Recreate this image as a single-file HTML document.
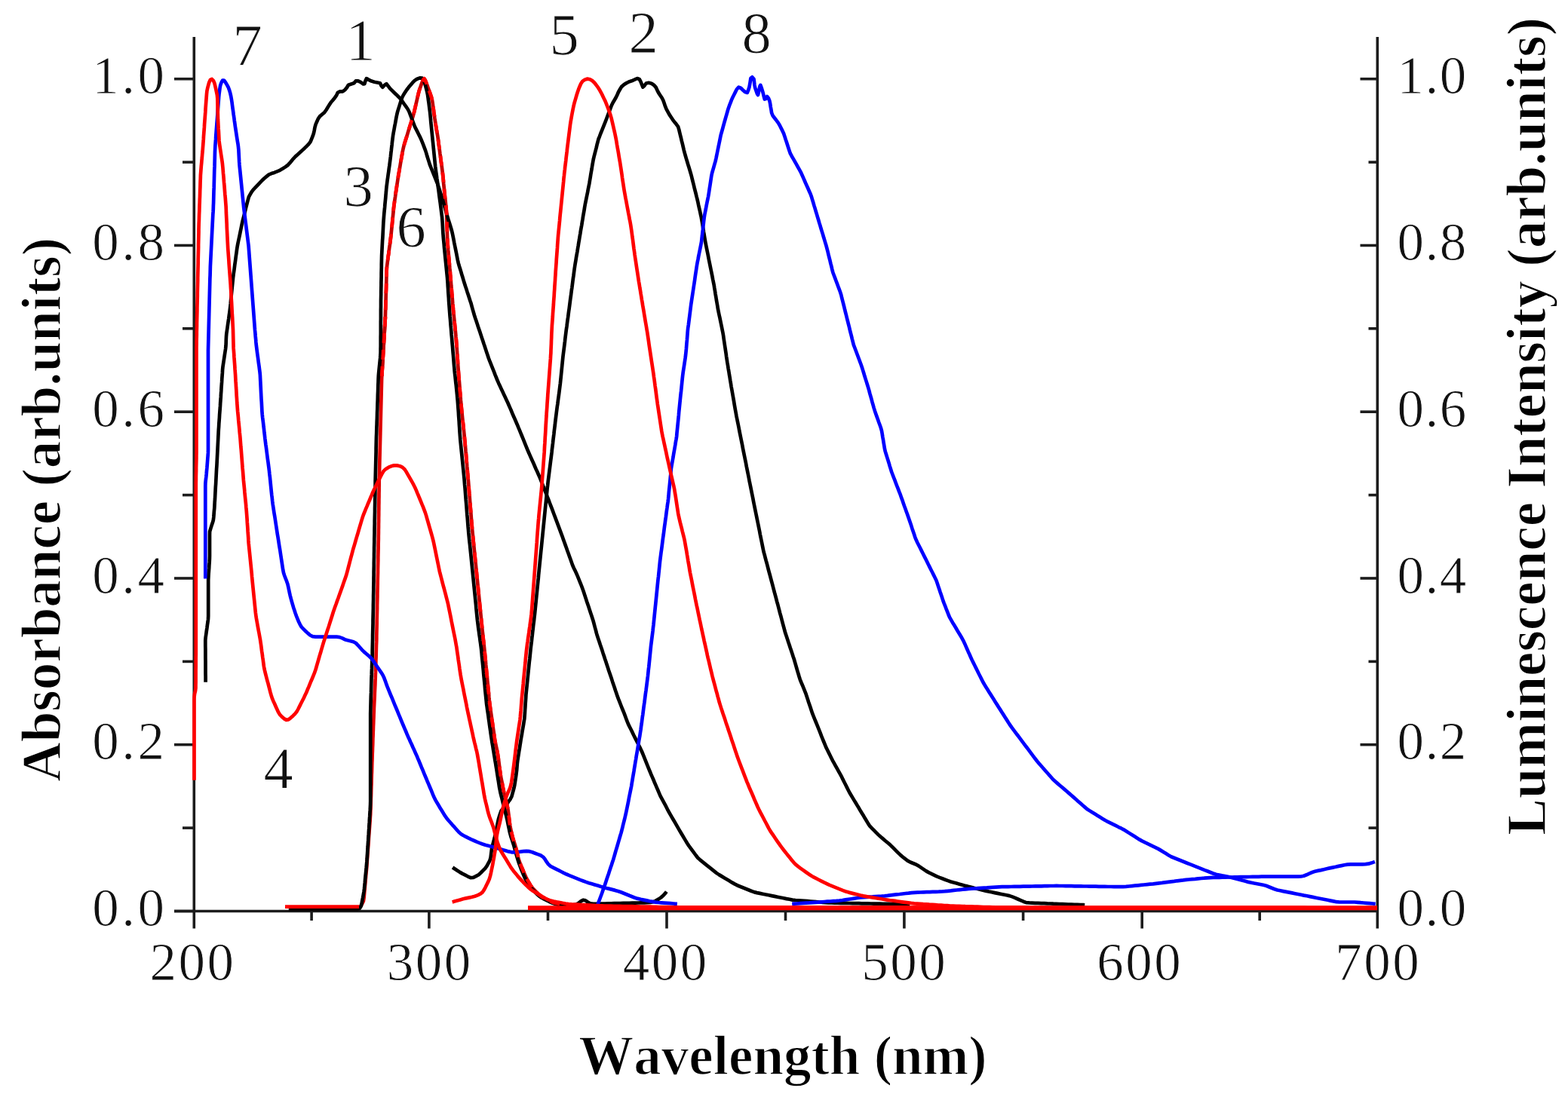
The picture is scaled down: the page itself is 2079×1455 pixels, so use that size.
<!DOCTYPE html>
<html><head><meta charset="utf-8"><title>Absorbance and luminescence spectra</title>
<style>html,body{margin:0;padding:0;background:#fff;overflow:hidden}svg{display:block}text{font-kerning:none}</style>
</head><body>
<svg width="2079" height="1455" viewBox="0 0 2079 1455">
<rect width="100%" height="100%" fill="#fff"/>
<g stroke="#1c1c1c" stroke-width="3.6" fill="none" stroke-linecap="butt">
<path d="M257.3 49 V1231.5 M1826.3 49 V1231.5 M231 1208.5 H1828.1"/>
<path d="M231 1208.5 H257.3"/>
<path d="M242 1098.1 H257.3"/>
<path d="M231 987.7 H257.3"/>
<path d="M242 877.4 H257.3"/>
<path d="M231 767.0 H257.3"/>
<path d="M242 656.6 H257.3"/>
<path d="M231 546.2 H257.3"/>
<path d="M242 435.8 H257.3"/>
<path d="M231 325.5 H257.3"/>
<path d="M242 215.1 H257.3"/>
<path d="M231 104.7 H257.3"/>
<path d="M1814.5 1098.1 H1826.3"/>
<path d="M1803.5 987.7 H1826.3"/>
<path d="M1814.5 877.4 H1826.3"/>
<path d="M1803.5 767.0 H1826.3"/>
<path d="M1814.5 656.6 H1826.3"/>
<path d="M1803.5 546.2 H1826.3"/>
<path d="M1814.5 435.8 H1826.3"/>
<path d="M1803.5 325.5 H1826.3"/>
<path d="M1814.5 215.1 H1826.3"/>
<path d="M1803.5 104.7 H1826.3"/>
<path d="M413.1 1208.5 V1221"/>
<path d="M568.9 1208.5 V1231.5"/>
<path d="M726.5 1208.5 V1221"/>
<path d="M884 1208.5 V1231.5"/>
<path d="M1041.5 1208.5 V1221"/>
<path d="M1198.9 1208.5 V1231.5"/>
<path d="M1356.6 1208.5 V1221"/>
<path d="M1514.2 1208.5 V1231.5"/>
<path d="M1670.2 1208.5 V1221"/>
</g>
<g font-family="Liberation Serif, serif" font-size="71" fill="#111" stroke="#fff" stroke-width="0.9">
<text x="221.5" y="1228.0" text-anchor="end" letter-spacing="3.5">0.0</text>
<text x="1852.5" y="1228.0" letter-spacing="1.5">0.0</text>
<text x="221.5" y="1007.2" text-anchor="end" letter-spacing="3.5">0.2</text>
<text x="1852.5" y="1007.2" letter-spacing="1.5">0.2</text>
<text x="221.5" y="786.5" text-anchor="end" letter-spacing="3.5">0.4</text>
<text x="1852.5" y="786.5" letter-spacing="1.5">0.4</text>
<text x="221.5" y="565.7" text-anchor="end" letter-spacing="3.5">0.6</text>
<text x="1852.5" y="565.7" letter-spacing="1.5">0.6</text>
<text x="221.5" y="345.0" text-anchor="end" letter-spacing="3.5">0.8</text>
<text x="1852.5" y="345.0" letter-spacing="1.5">0.8</text>
<text x="221.5" y="124.2" text-anchor="end" letter-spacing="3.5">1.0</text>
<text x="1852.5" y="124.2" letter-spacing="1.5">1.0</text>
<text x="255.55" y="1299.5" text-anchor="middle" letter-spacing="2.5">200</text>
<text x="569.75" y="1299.5" text-anchor="middle" letter-spacing="2.5">300</text>
<text x="882.65" y="1299.5" text-anchor="middle" letter-spacing="2.5">400</text>
<text x="1199.25" y="1299.5" text-anchor="middle" letter-spacing="2.5">500</text>
<text x="1511.25" y="1299.5" text-anchor="middle" letter-spacing="2.5">600</text>
<text x="1827.25" y="1299.5" text-anchor="middle" letter-spacing="2.5">700</text>
</g>
<g font-family="Liberation Serif, serif" font-size="73" font-weight="bold" fill="#000" stroke="#fff" stroke-width="1.4">
<text x="1038" y="1424.5" text-anchor="middle">Wavelength (nm)</text>
<text transform="translate(80 676) rotate(-90)" text-anchor="middle">Absorbance (arb.units)</text>
<text transform="translate(2048.5 565.5) rotate(-90)" text-anchor="middle">Luminescence Intensity (arb.units)</text>
</g>
<g font-family="Liberation Serif, serif" font-size="78.5" fill="#111" stroke="#fff" stroke-width="0.9">
<text x="328" y="86" text-anchor="middle">7</text>
<text x="478" y="79" text-anchor="middle">1</text>
<text x="748" y="72" text-anchor="middle">5</text>
<text x="853" y="69" text-anchor="middle">2</text>
<text x="1003" y="70" text-anchor="middle">8</text>
<text x="475" y="273" text-anchor="middle">3</text>
<text x="545" y="327" text-anchor="middle">6</text>
<text x="369" y="1045" text-anchor="middle">4</text>
</g>
<g fill="none" stroke-width="4.7" stroke-linejoin="round" stroke-linecap="butt">
<polyline stroke="#e00000" stroke-linecap="round" points="478.2,1202.1 480.0,1199.0 481.8,1195.5 482.5,1191.6 482.9,1187.6 483.2,1183.6 483.6,1179.6 483.9,1175.6 484.3,1171.6 484.6,1167.6 485.0,1163.6 485.3,1159.6 485.7,1155.7 486.1,1151.7 486.4,1147.7 486.7,1143.7 486.9,1139.7 487.2,1135.7 487.5,1131.7 487.8,1127.7 488.1,1123.7 488.4,1119.7 488.7,1115.7 488.9,1111.7 489.2,1107.7 489.5,1103.7 489.8,1099.7 490.1,1095.7 490.4,1091.7 490.7,1087.7 490.9,1083.7 491.2,1079.7 491.3,1075.7 491.5,1071.7 491.6,1067.7 491.7,1063.7 491.8,1059.7 492.0,1055.7 492.1,1051.7 492.2,1047.6 492.3,1043.6 492.5,1039.6 492.6,1035.6 492.7,1031.6 492.8,1027.6 493.0,1023.6 493.1,1019.6 493.2,1015.6 493.3,1011.6 493.5,1007.6 493.6,1003.6 493.7,999.6 493.9,995.6 494.0,991.6 494.2,987.6 494.3,983.5 494.4,979.5 494.6,975.5 494.7,971.5 494.9,967.5 495.0,963.5 495.2,959.5 495.3,955.5 495.5,951.5 495.6,947.5 495.8,943.5 495.9,939.5 496.1,935.5 496.3,931.5 496.5,927.5 496.7,923.5 496.8,919.5 497.0,915.5 497.2,911.5 497.4,907.5 497.5,903.5 497.7,899.4 497.8,895.4 498.0,891.4 498.1,887.4 498.2,883.4 498.3,879.4 498.4,875.4 498.6,871.4 498.7,867.4 498.8,863.4 498.9,859.4 499.0,855.4 499.2,851.4 499.3,847.4 499.3,843.4 499.4,839.3 499.5,835.3 499.6,831.3 499.7,827.3 499.7,823.3 499.8,819.3 499.9,815.3 500.0,811.3 500.1,807.3 500.1,803.3 500.2,799.3 500.3,795.3 500.4,791.3 500.4,787.3 500.5,783.2 500.6,779.2 500.7,775.2 500.7,771.2 500.8,767.2 500.9,763.2 501.0,759.2 501.0,755.2 501.1,751.2 501.2,747.2 501.3,743.2 501.3,739.2 501.4,735.2 501.5,731.1 501.6,727.1 501.6,723.1 501.7,719.1 501.8,715.1 501.8,711.1 501.9,707.1 501.9,703.1 502.0,699.1 502.0,695.1 502.1,691.1 502.1,687.1 502.2,683.1 502.2,679.0 502.3,675.0 502.3,671.0 502.4,667.0 502.4,663.0 502.5,659.0 502.5,655.0 502.6,651.0 502.6,647.0 502.7,643.0 502.7,639.0 502.8,635.0 502.9,631.0 503.0,626.9 503.1,622.9 503.2,618.9 503.3,614.9 503.4,610.9 503.5,606.9 503.6,602.9 503.7,598.9 503.8,594.9 503.9,590.9 504.0,586.9 504.1,582.9 504.2,578.9 504.3,574.9 504.4,570.8 504.5,566.8 504.6,562.8 504.7,558.8 504.8,554.8 504.9,550.8 505.0,546.8 505.1,542.8 505.2,538.8 505.3,534.8 505.4,530.8 505.5,526.8 505.6,522.8 505.7,518.8 505.8,514.7 505.9,510.7 506.0,506.7 506.1,502.7 506.3,498.7 506.5,494.7 506.7,490.7 507.0,486.7 507.2,482.7 507.5,478.7 507.7,474.7 507.9,470.7 508.2,466.7 508.4,462.7 508.6,458.7 508.9,454.7 509.1,450.7 509.4,446.7 509.6,442.7 509.8,438.7 510.1,434.7 510.3,430.7 510.5,426.7 510.8,422.7 510.9,421.2"/>
<polyline stroke="#c40000" points="506.3,498.9 506.4,495.9 506.7,492.0 506.9,488.0 507.1,484.0 507.4,480.0 507.6,476.0 507.9,472.0 508.1,468.0 508.3,464.0 508.6,460.1 508.8,456.1 509.0,452.1 509.3,448.1 509.5,444.1 509.8,440.1 510.0,436.1 510.2,432.1 510.5,428.1 510.7,424.1 510.9,420.1 511.0,416.1 511.1,412.1 511.3,408.1 511.4,404.1 511.5,400.1 511.6,396.1 511.7,392.1 511.8,388.1 512.0,384.1 512.1,380.1 512.2,376.1 512.3,372.1 512.4,368.1 512.5,364.1 512.6,360.1 512.8,356.1 513.2,352.1 513.7,348.2 514.2,344.2 514.7,340.2 515.3,336.3 515.8,332.3 516.3,328.3 516.9,324.4 517.4,320.4 517.9,316.4 518.4,312.5 518.8,308.5 519.2,304.5 519.6,300.5 520.0,296.5 520.4,292.5 520.8,288.6 521.2,284.6 521.6,280.6 521.9,276.6 522.4,272.6 522.9,268.7 523.5,264.7 524.1,260.8 524.6,256.8 525.2,252.8 525.8,248.9 526.4,244.9 527.0,241.0 527.6,237.0 528.2,233.0 528.9,229.1 529.6,225.2 530.3,221.2 530.9,217.3 531.6,213.3 532.3,209.4 533.0,205.5 533.7,201.5 534.5,197.6 535.4,193.7 536.5,189.9 537.7,186.0 538.9,182.2 540.1,178.4 541.2,174.6 542.4,170.8 543.6,166.9 544.8,163.1 546.0,159.3 547.2,155.5 548.3,151.6 549.3,147.8 550.2,143.9 551.1,140.0 552.0,136.1 552.9,132.2 553.8,128.2 554.7,124.4 555.7,120.5 557.0,116.7 558.3,112.9 559.7,109.2 561.1,105.7 562.4,104.3 563.8,106.3 565.2,109.9 566.6,113.6 567.9,117.4 569.3,121.1 570.7,124.9 572.0,128.7 572.9,132.5 573.6,136.5 574.1,140.4 574.7,144.4 575.2,148.4 575.8,152.3 576.3,156.3 576.9,160.2 577.5,164.2 578.2,168.1 578.8,172.1 579.5,176.0 580.2,180.0 580.8,183.9 581.3,187.9 581.8,191.9 582.4,195.8 582.9,199.8 583.4,203.8 584.0,207.7 584.5,211.7 585.0,215.7 585.6,219.6 586.1,223.6 586.6,227.6 587.1,231.5 587.5,235.5 587.9,239.5 588.2,243.5 588.6,247.5 589.0,251.5 589.4,255.4 589.8,259.4 590.2,263.4 590.7,267.4 591.1,271.4 591.5,275.3 591.8,279.3 592.1,283.3 592.3,287.3 592.4,291.3 592.5,295.3 592.6,299.3 592.8,303.3 592.9,307.3 593.0,311.3 593.1,315.3 593.3,319.3 593.6,323.3 593.9,327.3 594.2,331.3 594.6,335.3 594.9,339.2 595.3,343.2 595.6,347.2 596.0,351.2 596.3,355.2 596.7,359.2 597.0,363.2 597.4,367.2 597.7,371.1 598.0,375.1 598.3,379.1 598.7,383.1 599.0,387.1 599.3,391.1 599.7,395.1 600.0,399.1 600.3,403.0 600.7,407.0 601.0,411.0 601.4,415.0 601.8,419.0 602.2,423.0 602.6,427.0 603.0,430.9 603.4,434.9 603.8,438.9 604.2,442.9 604.5,446.9 604.9,450.8 605.2,454.8 605.5,458.8 605.8,462.8 606.0,466.8 606.3,470.8 606.6,474.8 606.9,478.8 607.1,482.8 607.4,486.8 607.7,490.8 608.0,494.8 608.3,498.7 608.6,502.7 609.0,506.7 609.3,510.7 609.6,514.7 609.9,518.7 610.3,522.7 610.6,526.7 610.9,530.7 611.3,534.6 611.6,538.6 612.0,542.6 612.4,546.6 612.8,550.6 613.2,554.6 613.6,558.5 614.1,562.5 614.5,566.5 614.9,570.5 615.3,574.5 615.7,578.4 616.1,582.4 616.5,586.4 616.8,590.4 617.2,594.4 617.5,598.4 617.9,602.3 618.2,606.3 618.5,610.3 618.9,614.3 619.2,618.3 619.6,622.3 619.9,626.3 620.3,630.3 620.6,634.2 621.0,638.2 621.3,642.2 621.6,646.2 621.9,650.2 622.2,654.2 622.6,658.2 622.9,662.2 623.2,666.2 623.5,670.1 623.8,674.1 624.2,678.1 624.5,682.1 624.8,686.1 625.1,690.1 625.4,694.1 625.8,698.1 626.1,702.0 626.5,706.0 626.9,710.0 627.3,714.0 627.7,718.0 628.1,722.0 628.5,725.9 628.9,729.9 629.3,733.9 629.7,737.9 630.1,741.9 630.5,745.8 630.9,749.8 631.3,753.8 631.7,757.8 632.1,761.8 632.5,765.8 632.9,769.7 633.3,773.7 633.7,777.7 634.1,781.7 634.5,785.7 634.9,789.6 635.3,793.6 635.7,797.6 636.1,801.6 636.5,805.6 636.9,809.6 637.3,813.5 637.7,817.5 638.1,821.5 638.5,825.5 638.9,829.5 639.3,833.4 639.7,837.4 640.2,841.4 640.6,845.4 641.0,849.4 641.5,853.3 641.9,857.3 642.3,861.3 642.7,865.3 643.1,869.3 643.5,873.2 643.9,877.2 644.2,881.2 644.6,885.2 645.0,889.2 645.4,893.2 645.8,897.1 646.1,901.1 646.5,905.1 646.9,909.1 647.3,913.1 647.7,917.1 648.1,921.0 648.4,925.0 648.8,929.0 649.3,933.0 649.8,937.0 650.3,940.9 650.9,944.9 651.5,948.8 652.0,952.8 652.6,956.8 653.2,960.7 653.7,964.7 654.3,968.6 654.9,972.6 655.4,976.6 656.0,980.5 656.7,984.5 657.5,988.4 658.4,992.3 659.2,996.2 659.9,1000.1 660.5,1004.1 661.1,1008.1 661.6,1012.0 662.1,1016.0 662.6,1020.0 663.2,1023.9 663.7,1027.9 664.4,1031.8 665.2,1035.8 666.0,1039.7 666.7,1043.6 667.5,1047.5 668.3,1051.5 669.2,1055.4 670.2,1059.2 671.1,1063.1 672.1,1067.0 673.0,1070.9 673.7,1074.8 674.2,1078.8 674.7,1082.8 675.2,1086.7 675.6,1090.7 676.2,1094.7 676.9,1098.6 677.8,1102.5 678.7,1106.4 679.7,1110.3 680.8,1114.1 682.0,1118.0 683.2,1121.8 684.3,1125.6 685.3,1129.5 686.2,1133.4 687.1,1137.3 688.1,1141.1 689.5,1144.9 691.0,1148.6 692.6,1152.3 694.1,1155.9 695.7,1159.6 697.3,1163.3 699.1,1166.9 701.1,1170.3 703.2,1173.8 705.4,1177.0 708.0,1180.0 710.9,1182.9 713.7,1185.7 716.7,1188.3 720.0,1190.4 723.5,1192.3 727.1,1194.1 730.7,1195.8 734.4,1197.4 738.2,1198.3 742.2,1198.9 746.1,1199.3 750.1,1199.8 754.1,1200.3 758.0,1200.7 762.0,1201.1 766.0,1201.3 770.0,1201.5 774.0,1201.7 778.0,1201.9 782.0,1202.1 786.0,1202.3 790.0,1202.5 794.0,1202.7 797.6,1202.9 798.9,1202.9"/>
<polyline stroke="#000" points="272.6,904.7 272.6,901.0 272.6,897.0 272.5,893.0 272.5,889.0 272.5,885.0 272.5,881.0 272.5,877.0 272.4,873.0 272.4,869.0 272.4,865.0 272.4,861.0 272.3,857.0 272.3,853.0 272.3,849.0 272.7,845.0 273.3,841.0 273.8,837.1 274.4,833.1 274.9,829.1 275.5,825.2 276.0,821.2 276.2,817.2 276.2,813.2 276.2,809.2 276.2,805.2 276.2,801.2 276.2,797.2 276.2,793.2 276.2,789.2 276.2,785.2 276.2,781.2 276.2,777.2 276.2,773.2 276.2,769.2 276.4,765.2 276.6,761.2 276.9,757.2 277.2,753.2 277.4,749.2 277.7,745.2 277.9,741.2 278.0,737.2 278.0,733.2 278.0,729.2 278.0,725.2 278.0,721.2 278.0,717.2 278.0,713.2 278.0,709.2 278.1,705.2 279.2,701.4 280.4,697.6 281.7,693.8 282.8,690.0 283.3,686.0 283.6,682.0 283.9,678.0 284.3,674.0 284.5,670.0 284.7,666.0 285.0,662.0 285.2,658.0 285.4,654.0 285.6,650.1 285.8,646.1 286.1,642.1 286.3,638.1 286.5,634.1 286.7,630.1 286.9,626.1 287.1,622.1 287.4,618.1 287.6,614.1 287.8,610.1 288.0,606.1 288.2,602.1 288.4,598.1 288.6,594.1 288.8,590.1 289.0,586.1 289.2,582.1 289.4,578.1 289.6,574.1 289.8,570.1 290.1,566.1 290.3,562.1 290.6,558.1 290.9,554.1 291.1,550.1 291.4,546.2 291.7,542.2 292.0,538.2 292.2,534.2 292.5,530.2 292.8,526.2 293.0,522.2 293.3,518.2 293.5,514.2 293.8,510.2 294.1,506.2 294.3,502.2 294.6,498.2 294.9,494.2 295.1,490.2 295.5,486.3 296.1,482.3 296.7,478.3 297.3,474.4 297.9,470.4 298.5,466.5 299.1,462.5 299.5,458.5 299.7,454.5 299.8,450.5 300.0,446.5 300.3,442.6 300.9,438.6 301.5,434.6 302.0,430.7 302.6,426.7 303.2,422.8 303.7,418.8 304.3,414.8 304.8,410.9 305.3,406.9 305.7,402.9 306.0,398.9 306.4,394.9 306.8,391.0 307.2,387.0 307.6,383.0 308.0,379.0 308.4,375.0 308.8,371.0 309.2,367.1 309.7,363.1 310.3,359.1 310.8,355.2 311.3,351.2 311.9,347.2 312.4,343.3 312.9,339.3 313.5,335.3 314.0,331.4 314.6,327.4 315.3,323.5 316.1,319.6 317.0,315.6 317.8,311.7 318.6,307.8 319.4,303.9 320.2,300.0 321.0,296.0 321.9,292.1 322.9,288.3 323.9,284.4 324.9,280.5 325.8,276.6 326.8,272.7 327.8,268.9 328.8,265.0 329.9,261.1 331.8,257.6 333.8,254.2 336.3,251.1 339.1,248.2 341.8,245.3 344.6,242.4 347.3,239.5 350.2,236.7 353.3,234.1 356.4,231.6 360.0,230.1 363.8,228.9 367.5,227.4 371.2,225.8 374.6,223.8 378.0,221.6 381.3,219.3 384.0,216.4 386.5,213.4 389.1,210.3 391.9,207.4 394.9,204.8 397.9,202.1 400.8,199.4 403.7,196.7 406.6,193.8 409.4,191.0 411.7,187.8 413.2,184.1 414.7,180.4 416.0,176.6 416.8,172.7 417.5,168.8 418.6,164.9 420.2,161.3 421.8,157.6 424.0,154.4 427.0,151.8 430.1,149.2 432.4,146.0 434.5,142.6 436.6,139.1 438.8,135.8 441.4,132.8 443.9,129.7 446.2,126.4 447.8,122.8 450.6,121.4 454.3,121.4 457.5,119.1 460.0,116.0 461.9,112.7 465.6,111.5 469.4,110.3 471.7,107.4 474.9,107.4 478.5,109.1 481.6,111.5 483.4,111.1 484.5,107.2 485.9,104.1 489.0,105.9 492.5,107.6 496.4,108.7 500.3,109.5 504.0,110.3 505.6,113.8 507.3,115.7 509.8,113.0 512.4,111.3 514.7,114.2 517.1,117.4 519.9,120.2 522.8,123.0 525.7,125.7 528.5,128.5 531.3,131.5 533.6,134.7 535.9,138.0 538.2,141.2 540.5,144.5 542.4,148.0 543.8,151.8 545.2,155.5 546.7,159.3 548.1,163.0 549.5,166.7 551.2,170.4 553.0,173.9 554.8,177.5 556.6,181.1 558.3,184.7 559.8,188.4 561.3,192.1 562.7,195.9 564.1,199.6 565.3,203.4 566.4,207.3 567.6,211.1 568.8,214.9 570.0,218.7 571.5,222.5 573.0,226.2 574.5,229.9 576.0,233.6 577.5,237.3 579.0,241.0 580.5,244.7 581.7,248.5 582.9,252.3 584.1,256.1 585.4,260.0 586.5,263.8 587.6,267.6 588.7,271.5 589.8,275.3 590.9,279.2 592.0,283.0 593.2,286.9 594.3,290.7 595.5,294.5 596.7,298.3 597.9,302.2 599.0,306.0 599.9,309.9 600.7,313.8 601.5,317.8 602.2,321.7 603.0,325.6 603.8,329.5 604.6,333.5 605.4,337.4 606.1,341.3 606.9,345.2 607.8,349.1 608.9,353.0 610.1,356.8 611.3,360.6 612.4,364.5 613.6,368.3 614.7,372.1 615.9,376.0 617.1,379.8 618.4,383.6 619.6,387.4 620.9,391.2 622.1,395.0 623.3,398.8 624.6,402.6 625.6,406.4 626.7,410.3 627.8,414.2 628.9,418.0 630.1,421.8 631.4,425.6 632.7,429.4 633.9,433.2 635.2,437.0 636.5,440.8 637.7,444.6 639.0,448.4 640.3,452.2 641.5,456.0 642.8,459.8 644.0,463.6 645.3,467.4 646.6,471.2 647.8,475.0 649.2,478.7 650.7,482.4 652.2,486.2 653.7,489.9 655.2,493.6 656.6,497.3 658.1,501.0 659.6,504.8 661.2,508.4 662.9,512.0 664.6,515.7 666.3,519.3 668.0,522.9 669.7,526.5 671.4,530.2 673.1,533.8 674.7,537.5 676.3,541.1 677.9,544.8 679.4,548.5 681.0,552.2 682.6,555.8 684.2,559.5 685.8,563.2 687.3,566.9 688.9,570.6 690.4,574.3 691.9,578.0 693.4,581.7 694.9,585.4 696.4,589.1 697.9,592.8 699.4,596.5 701.0,600.2 702.6,603.9 704.2,607.5 705.9,611.2 707.5,614.8 709.1,618.5 710.7,622.2 712.4,625.8 714.0,629.5 715.6,633.1 717.1,636.8 718.6,640.6 720.0,644.3 721.5,648.0 722.9,651.7 724.4,655.5 725.8,659.2 727.3,662.9 728.7,666.7 730.1,670.4 731.6,674.2 733.0,677.9 734.4,681.7 735.8,685.4 737.2,689.1 738.6,692.9 740.0,696.6 741.4,700.4 742.8,704.1 744.2,707.9 745.6,711.6 746.9,715.4 748.3,719.2 749.6,722.9 751.0,726.7 752.3,730.5 753.7,734.3 755.0,738.0 756.4,741.8 757.7,745.6 759.0,749.3 760.6,753.0 762.4,756.6 764.1,760.2 765.7,763.9 767.2,767.6 768.7,771.3 770.2,775.0 771.6,778.7 773.0,782.5 774.3,786.3 775.5,790.1 776.8,793.9 778.0,797.7 779.3,801.5 780.6,805.3 781.8,809.1 783.1,812.9 784.4,816.7 785.6,820.5 786.8,824.3 787.8,828.2 788.8,832.0 789.9,835.9 790.9,839.8 792.0,843.6 793.3,847.4 794.6,851.2 795.8,855.0 797.1,858.8 798.4,862.6 799.6,866.4 800.9,870.2 802.1,874.0 803.4,877.8 804.6,881.6 805.9,885.4 807.1,889.2 808.4,893.0 809.7,896.8 811.0,900.6 812.2,904.4 813.5,908.2 814.8,912.0 816.0,915.8 817.3,919.6 818.6,923.4 820.0,927.1 821.5,930.8 822.9,934.5 824.4,938.3 825.9,942.0 827.4,945.7 828.8,949.4 830.2,953.2 831.6,956.9 833.1,960.6 834.9,964.2 836.7,967.8 838.5,971.4 840.2,975.0 842.0,978.6 843.8,982.1 845.6,985.7 847.4,989.3 849.2,992.9 850.9,996.5 852.4,1000.2 853.9,1003.9 855.4,1007.6 856.9,1011.4 858.4,1015.1 859.9,1018.8 861.4,1022.5 862.9,1026.2 864.5,1029.9 866.1,1033.5 867.6,1037.2 869.2,1040.9 870.8,1044.6 872.4,1048.3 873.9,1051.9 875.5,1055.6 877.4,1059.2 879.3,1062.7 881.2,1066.2 883.1,1069.7 884.9,1073.3 886.8,1076.8 888.8,1080.3 890.8,1083.8 892.8,1087.2 894.8,1090.7 896.8,1094.2 898.8,1097.6 900.8,1101.1 902.8,1104.5 904.9,1108.0 906.9,1111.4 909.0,1114.9 911.0,1118.3 913.2,1121.6 915.6,1124.8 918.0,1128.1 920.4,1131.3 922.7,1134.5 925.2,1137.7 928.1,1140.4 931.2,1142.9 934.3,1145.4 937.4,1147.9 940.6,1150.4 943.7,1152.9 946.8,1155.4 949.9,1157.9 953.3,1160.1 956.7,1162.1 960.1,1164.2 963.6,1166.3 967.0,1168.3 970.4,1170.4 973.9,1172.4 977.4,1174.2 981.1,1175.7 984.9,1177.2 988.6,1178.7 992.3,1180.2 996.0,1181.7 999.7,1183.1 1003.6,1184.1 1007.5,1184.9 1011.4,1185.7 1015.4,1186.5 1019.3,1187.3 1023.2,1188.1 1027.1,1188.9 1031.1,1189.7 1035.0,1190.5 1038.9,1191.3 1042.8,1192.1 1046.8,1192.8 1050.7,1193.6 1054.7,1194.0 1058.7,1194.3 1062.6,1194.6 1066.6,1194.9 1070.6,1195.2 1074.6,1195.5 1078.6,1195.8 1082.6,1196.2 1086.6,1196.5 1090.6,1196.8 1094.6,1197.1 1098.6,1197.4 1102.6,1197.5 1106.6,1197.6 1110.6,1197.7 1114.6,1197.8 1118.6,1197.8 1122.6,1197.9 1126.6,1198.0 1130.6,1198.1 1134.6,1198.1 1138.6,1198.2 1142.6,1198.3 1146.6,1198.3 1150.6,1198.4 1154.6,1198.5 1158.6,1198.6 1162.6,1198.6 1166.6,1198.7 1170.6,1198.8 1174.6,1198.8 1178.6,1198.9 1182.6,1199.0 1186.6,1199.0 1190.6,1199.1 1194.6,1199.2 1198.6,1199.3 1202.6,1199.3 1206.3,1199.4"/>
<polyline stroke="#000" points="600.1,1150.5 603.1,1152.5 606.5,1154.7 609.8,1156.9 613.3,1158.9 616.9,1160.7 620.4,1162.5 624.0,1164.2 627.6,1163.9 631.1,1162.1 634.6,1160.2 637.6,1157.5 640.4,1154.7 643.2,1151.8 645.5,1148.6 647.4,1145.1 649.3,1141.6 650.5,1137.8 651.0,1133.9 651.5,1129.9 652.0,1125.9 652.9,1122.0 653.9,1118.1 654.9,1114.3 655.9,1110.4 656.8,1106.5 657.6,1102.6 658.4,1098.7 659.2,1094.8 660.0,1090.8 660.8,1086.9 661.9,1083.1 663.2,1079.3 664.5,1075.5 666.9,1072.4 669.6,1069.4 672.1,1066.3 674.4,1063.0 676.7,1059.8 678.5,1056.2 679.5,1052.4 680.6,1048.5 681.6,1044.7 682.4,1040.7 683.0,1036.8 683.6,1032.8 684.2,1028.9 684.7,1024.9 685.2,1020.9 685.5,1017.0 685.8,1013.0 686.3,1009.0 686.9,1005.0 687.5,1001.1 688.1,997.1 688.8,993.2 689.4,989.2 690.0,985.3 690.6,981.3 691.3,977.4 692.0,973.5 692.6,969.5 693.3,965.6 694.0,961.6 694.6,957.7 695.3,953.7 695.6,949.7 695.9,945.8 696.1,941.8 696.4,937.8 696.6,933.8 696.9,929.8 697.2,925.8 697.4,921.8 697.8,917.8 698.2,913.8 698.6,909.9 699.0,905.9 699.4,901.9 699.8,897.9 700.2,893.9 700.6,890.0 701.0,886.0 701.4,882.0 701.8,878.0 702.3,874.0 702.7,870.1 703.1,866.1 703.5,862.1 703.9,858.1 704.4,854.2 704.9,850.2 705.3,846.2 705.8,842.2 706.2,838.3 706.7,834.3 707.1,830.3 707.6,826.3 708.1,822.4 708.5,818.4 709.0,814.4 709.4,810.4 709.8,806.5 710.2,802.5 710.6,798.5 711.0,794.5 711.4,790.5 711.8,786.6 712.2,782.6 712.6,778.6 713.0,774.6 713.4,770.6 713.8,766.7 714.1,762.7 714.5,758.7 714.9,754.7 715.3,750.7 715.7,746.8 716.1,742.8 716.5,738.8 716.9,734.8 717.3,730.8 717.7,726.9 718.1,722.9 718.5,718.9 718.9,714.9 719.3,710.9 719.7,707.0 720.1,703.0 720.5,699.0 720.9,695.0 721.3,691.0 721.7,687.1 722.1,683.1 722.5,679.1 722.9,675.1 723.3,671.1 723.7,667.2 724.1,663.2 724.5,659.2 724.9,655.2 725.3,651.2 725.7,647.3 726.2,643.3 726.6,639.3 727.1,635.3 727.6,631.4 728.1,627.4 728.6,623.4 729.1,619.5 729.6,615.5 730.1,611.5 730.6,607.6 731.1,603.6 731.6,599.6 732.0,595.6 732.5,591.7 733.0,587.7 733.4,583.7 733.9,579.8 734.4,575.8 734.8,571.8 735.3,567.8 735.8,563.9 736.2,559.9 736.7,555.9 737.2,551.9 737.7,548.0 738.2,544.0 738.7,540.0 739.3,536.1 739.8,532.1 740.3,528.2 740.9,524.2 741.4,520.2 741.9,516.3 742.4,512.3 742.9,508.3 743.3,504.3 743.7,500.4 744.1,496.4 744.5,492.4 744.9,488.4 745.3,484.4 745.7,480.5 746.1,476.5 746.5,472.5 747.0,468.5 747.5,464.6 748.0,460.6 748.5,456.6 749.0,452.6 749.4,448.7 749.9,444.7 750.4,440.7 750.9,436.8 751.5,432.8 752.0,428.8 752.5,424.9 753.1,420.9 753.6,416.9 754.1,413.0 754.7,409.0 755.2,405.1 755.7,401.1 756.2,397.1 756.8,393.2 757.3,389.2 757.8,385.2 758.4,381.3 758.9,377.3 759.4,373.3 759.9,369.4 760.5,365.4 761.0,361.4 761.5,357.5 762.1,353.5 762.7,349.6 763.4,345.6 764.0,341.7 764.7,337.7 765.4,333.8 766.0,329.8 766.7,325.9 767.3,321.9 768.0,318.0 768.6,314.0 769.3,310.1 769.9,306.2 770.6,302.2 771.3,298.3 771.9,294.3 772.6,290.4 773.2,286.4 773.9,282.5 774.6,278.5 775.2,274.6 775.9,270.7 776.7,266.7 777.5,262.8 778.3,258.9 779.1,255.0 779.8,251.1 780.6,247.1 781.4,243.2 782.0,239.3 782.7,235.3 783.3,231.4 784.0,227.4 784.7,223.5 785.3,219.5 786.0,215.6 786.7,211.6 787.6,207.8 788.6,203.9 789.6,200.0 790.6,196.1 791.5,192.2 792.5,188.4 793.5,184.5 795.0,180.8 796.4,177.0 797.9,173.3 799.4,169.6 800.9,165.9 802.4,162.2 803.8,158.5 805.2,154.7 806.6,151.0 808.1,147.2 809.5,143.5 810.9,139.7 812.6,136.2 814.7,132.7 816.7,129.3 818.4,125.7 820.0,122.0 822.0,118.5 824.0,115.1 827.0,112.5 830.3,110.3 833.8,108.5 837.6,107.3 841.3,105.7 844.9,104.0 847.7,104.9 849.5,108.4 851.0,112.1 852.4,115.5 854.4,113.7 856.7,110.5 860.1,109.8 863.9,110.8 867.2,113.0 869.7,115.9 871.4,119.6 873.2,123.1 875.4,126.5 877.6,129.8 879.4,133.3 880.7,137.1 882.0,140.9 883.5,144.6 885.4,148.1 887.3,151.6 889.5,155.0 891.7,158.3 894.0,161.5 896.6,164.6 899.0,167.8 900.2,171.6 901.1,175.5 902.0,179.3 903.0,183.2 903.9,187.1 904.9,191.0 905.8,194.9 906.7,198.8 907.7,202.7 908.8,206.5 909.9,210.3 911.1,214.2 912.2,218.0 913.4,221.8 914.6,225.7 915.7,229.5 916.8,233.3 917.7,237.2 918.7,241.1 919.7,245.0 920.6,248.9 921.6,252.8 922.6,256.6 923.5,260.5 924.5,264.4 925.4,268.3 926.2,272.2 927.1,276.1 928.0,280.0 928.8,283.9 929.7,287.8 930.4,291.8 931.1,295.7 931.7,299.7 932.4,303.6 933.0,307.6 933.7,311.5 934.3,315.4 935.0,319.4 935.7,323.3 936.5,327.2 937.3,331.2 938.1,335.1 938.9,339.0 939.6,342.9 940.4,346.9 941.2,350.8 942.0,354.7 942.8,358.6 943.6,362.5 944.4,366.5 945.1,370.4 945.9,374.3 946.7,378.2 947.3,382.2 948.0,386.1 948.6,390.1 949.3,394.0 949.9,398.0 950.6,401.9 951.3,405.9 951.9,409.8 952.7,413.7 953.5,417.6 954.4,421.6 955.2,425.5 956.0,429.4 956.8,433.3 957.6,437.2 958.4,441.1 959.1,445.1 959.6,449.0 960.2,453.0 960.8,457.0 961.4,460.9 962.0,464.9 962.6,468.8 963.1,472.8 963.7,476.7 964.3,480.7 965.0,484.7 965.6,488.6 966.3,492.5 966.9,496.5 967.6,500.4 968.2,504.4 968.9,508.3 969.5,512.3 970.2,516.2 970.9,520.2 971.6,524.1 972.3,528.0 973.0,532.0 973.6,535.9 974.3,539.9 975.0,543.8 975.7,547.7 976.4,551.7 977.2,555.6 978.0,559.5 978.8,563.4 979.6,567.4 980.3,571.3 981.1,575.2 981.9,579.1 982.7,583.1 983.5,587.0 984.3,590.9 985.0,594.8 985.8,598.8 986.6,602.7 987.4,606.6 988.2,610.5 989.0,614.4 989.7,618.4 990.5,622.3 991.3,626.2 992.1,630.1 992.9,634.1 993.6,638.0 994.4,641.9 995.2,645.8 996.0,649.7 996.8,653.7 997.6,657.6 998.4,661.5 999.1,665.4 999.9,669.4 1000.7,673.3 1001.5,677.2 1002.3,681.1 1003.1,685.0 1003.9,689.0 1004.7,692.9 1005.5,696.8 1006.3,700.7 1007.1,704.6 1007.8,708.6 1008.6,712.5 1009.4,716.4 1010.2,720.3 1011.0,724.3 1011.8,728.2 1012.6,732.1 1013.7,735.9 1014.7,739.8 1015.7,743.7 1016.8,747.5 1017.8,751.4 1018.8,755.3 1019.8,759.1 1020.9,763.0 1021.9,766.9 1022.9,770.7 1024.0,774.6 1025.0,778.5 1026.0,782.3 1027.0,786.2 1028.1,790.1 1029.1,793.9 1030.1,797.8 1031.2,801.7 1032.2,805.5 1033.2,809.4 1034.2,813.3 1035.3,817.1 1036.3,821.0 1037.3,824.9 1038.3,828.7 1039.4,832.6 1040.4,836.5 1041.5,840.3 1042.8,844.1 1044.1,847.9 1045.3,851.7 1046.6,855.5 1047.8,859.3 1049.1,863.1 1050.4,866.9 1051.6,870.7 1052.9,874.5 1054.0,878.3 1055.1,882.1 1056.2,886.0 1057.3,889.8 1058.5,893.7 1059.6,897.5 1060.8,901.3 1062.3,905.0 1063.9,908.7 1065.4,912.4 1066.9,916.1 1068.4,919.8 1069.6,923.6 1070.9,927.4 1072.1,931.2 1073.4,935.0 1074.7,938.8 1075.9,942.6 1077.2,946.4 1078.7,950.1 1080.2,953.8 1081.7,957.5 1083.2,961.2 1084.7,964.9 1086.2,968.6 1087.7,972.4 1089.1,976.1 1090.6,979.8 1092.1,983.5 1093.6,987.2 1095.1,990.9 1096.9,994.5 1098.7,998.1 1100.5,1001.7 1102.2,1005.2 1104.0,1008.8 1106.0,1012.3 1107.9,1015.8 1109.9,1019.3 1111.8,1022.8 1113.8,1026.3 1115.7,1029.8 1117.4,1033.4 1119.2,1037.0 1121.0,1040.5 1122.8,1044.1 1124.6,1047.7 1126.4,1051.3 1128.5,1054.7 1130.5,1058.1 1132.6,1061.6 1134.7,1065.0 1136.7,1068.4 1138.8,1071.8 1140.8,1075.3 1142.9,1078.7 1145.0,1082.1 1147.0,1085.6 1149.1,1089.0 1151.1,1092.4 1153.3,1095.7 1156.1,1098.6 1158.9,1101.4 1161.8,1104.3 1164.6,1107.1 1167.5,1109.8 1170.6,1112.4 1173.6,1115.0 1176.7,1117.5 1179.8,1120.1 1182.6,1122.9 1185.4,1125.7 1188.3,1128.6 1191.1,1131.4 1194.0,1134.1 1197.1,1136.7 1200.2,1139.2 1203.4,1141.6 1206.9,1143.5 1210.6,1145.0 1214.3,1146.5 1217.8,1148.4 1221.1,1150.6 1224.4,1152.9 1227.7,1155.1 1231.2,1157.1 1234.8,1158.8 1238.4,1160.6 1242.0,1162.4 1245.7,1163.9 1249.4,1165.3 1253.1,1166.7 1256.9,1168.1 1260.7,1169.5 1264.5,1170.6 1268.3,1171.6 1272.2,1172.7 1276.0,1173.8 1279.9,1174.9 1283.8,1175.9 1287.7,1176.8 1291.5,1177.8 1295.4,1178.7 1299.3,1179.7 1303.2,1180.7 1307.1,1181.6 1311.0,1182.5 1314.9,1183.3 1318.8,1184.1 1322.7,1184.9 1326.7,1185.7 1330.6,1186.5 1334.5,1187.3 1338.4,1188.1 1342.2,1189.4 1345.9,1190.9 1349.5,1192.5 1353.2,1194.1 1356.9,1195.7 1360.6,1197.1 1364.6,1197.4 1368.6,1197.6 1372.5,1197.8 1376.5,1197.9 1380.5,1198.1 1384.5,1198.2 1388.5,1198.4 1392.5,1198.5 1396.5,1198.7 1400.5,1198.8 1404.5,1199.0 1408.5,1199.1 1412.5,1199.3 1416.5,1199.5 1420.5,1199.6 1424.5,1199.8 1428.5,1199.9 1432.5,1200.1 1436.5,1200.2 1438.2,1200.3"/>
<polyline stroke="#000" points="382.8,1206.0 385.7,1206.0 389.6,1206.0 393.6,1206.0 397.6,1206.0 401.6,1206.0 405.6,1206.0 409.6,1206.0 413.6,1206.0 417.6,1206.0 421.6,1206.0 425.6,1206.0 429.6,1206.0 433.6,1206.0 437.6,1206.0 441.6,1206.0 445.6,1206.0 449.6,1206.0 453.6,1206.0 457.6,1206.0 461.6,1206.0 465.6,1206.0 469.6,1206.0 473.6,1205.9 476.8,1204.9 478.6,1202.1 479.6,1198.4 480.3,1194.4 481.1,1190.5 481.8,1186.6 482.5,1182.6 483.0,1178.7 483.4,1174.7 483.8,1170.7 484.1,1166.7 484.5,1162.7 484.9,1158.8 485.3,1154.8 485.7,1150.8 486.0,1146.8 486.4,1142.8 486.7,1138.8 486.9,1134.8 487.2,1130.8 487.4,1126.8 487.7,1122.8 487.9,1118.9 488.2,1114.9 488.4,1110.9 488.7,1106.9 488.9,1102.9 489.2,1098.9 489.4,1094.9 489.7,1090.9 489.9,1086.9 490.2,1082.9 490.4,1078.9 490.7,1074.9 490.9,1070.9 491.1,1066.9 491.2,1062.9 491.2,1058.9 491.2,1054.9 491.2,1050.9 491.2,1046.9 491.2,1042.9 491.2,1038.9 491.2,1034.9 491.2,1030.9 491.2,1026.9 491.2,1022.9 491.2,1018.9 491.2,1014.9 491.2,1010.9 491.2,1006.9 491.2,1002.9 491.2,998.9 491.2,994.9 491.2,990.9 491.2,986.9 491.2,982.9 491.2,978.9 491.2,974.9 491.2,970.9 491.2,966.9 491.2,962.9 491.2,958.9 491.2,954.9 491.2,950.9 491.2,946.9 491.3,942.9 491.4,938.9 491.5,934.9 491.6,930.9 491.7,926.9 491.8,922.9 492.0,918.9 492.1,914.9 492.2,910.9 492.3,906.9 492.4,902.9 492.5,898.9 492.7,894.9 492.8,890.9 493.0,886.9 493.1,882.9 493.3,878.9 493.4,874.9 493.6,870.9 493.7,866.9 493.7,862.9 493.8,858.9 493.9,854.9 494.0,850.9 494.1,846.9 494.1,842.9 494.2,838.9 494.3,834.9 494.4,830.9 494.5,826.9 494.5,822.9 494.6,818.9 494.7,814.9 494.8,810.9 494.9,806.9 494.9,802.9 495.0,798.9 495.1,794.9 495.1,790.9 495.2,786.9 495.3,782.9 495.3,778.9 495.4,774.9 495.5,770.9 495.5,766.9 495.6,762.9 495.6,758.9 495.7,754.9 495.8,750.9 495.8,746.9 495.9,742.9 496.0,738.9 496.0,734.9 496.1,730.9 496.1,726.9 496.2,722.9 496.3,718.9 496.3,714.9 496.4,710.9 496.5,706.9 496.5,702.9 496.6,698.9 496.7,694.9 496.7,690.9 496.8,686.9 496.9,682.8 497.0,678.8 497.0,674.8 497.1,670.8 497.2,666.8 497.2,662.8 497.3,658.8 497.4,654.8 497.4,650.8 497.5,646.8 497.6,642.8 497.6,638.8 497.7,634.8 497.8,630.8 497.9,626.8 498.0,622.8 498.1,618.8 498.2,614.8 498.3,610.8 498.4,606.8 498.5,602.8 498.6,598.8 498.6,594.8 498.7,590.8 498.8,586.8 498.9,582.8 499.0,578.8 499.2,574.8 499.3,570.8 499.4,566.8 499.6,562.8 499.7,558.8 499.9,554.8 500.0,550.8 500.1,546.8 500.3,542.8 500.4,538.8 500.5,534.8 500.7,530.8 500.8,526.8 500.9,522.8 501.1,518.8 501.2,514.8 501.3,510.8 501.5,506.8 501.6,502.8 501.8,498.8 502.1,494.9 502.5,490.9 502.9,486.9 503.3,482.9 503.7,478.9 504.1,475.0 504.4,471.0 504.6,467.0 504.6,463.0 504.7,459.0 504.7,455.0 504.7,451.0 504.7,447.0 504.8,443.0 504.8,439.0 504.8,435.0 504.8,431.0 504.8,427.0 504.9,423.0 504.9,419.0 504.9,415.0 504.9,411.0 505.0,407.0 505.0,402.9 505.0,398.9 505.1,394.9 505.2,390.9 505.2,386.9 505.3,382.9 505.4,378.9 505.4,374.9 505.5,370.9 505.6,366.9 505.6,362.9 505.7,358.9 505.8,354.9 505.8,350.9 505.9,346.9 506.0,342.9 506.1,338.9 506.3,334.9 506.5,330.9 506.7,326.9 506.9,323.0 507.1,319.0 507.4,315.0 507.6,311.0 507.8,307.0 508.0,303.0 508.2,299.0 508.4,295.0 508.7,291.0 509.0,287.0 509.3,283.0 509.7,279.0 510.1,275.0 510.4,271.1 510.8,267.1 511.2,263.1 511.5,259.1 511.9,255.1 512.2,251.1 512.6,247.1 513.1,243.2 513.6,239.2 514.2,235.2 514.7,231.3 515.3,227.3 515.8,223.4 516.4,219.4 516.9,215.4 517.4,211.5 517.9,207.5 518.3,203.5 518.8,199.5 519.2,195.6 519.7,191.6 520.1,187.6 520.6,183.6 521.1,179.7 521.8,175.7 522.5,171.8 523.2,167.8 524.0,163.9 524.7,160.0 525.4,156.0 526.2,152.1 527.1,148.2 528.3,144.4 529.5,140.6 530.7,136.8 531.9,133.0 533.2,129.2 535.0,125.7 537.2,122.3 539.4,119.0 541.8,115.8 544.4,112.7 547.0,109.7 549.7,106.9 553.0,104.7 556.6,103.4 559.8,103.6 561.8,106.1 563.0,109.7 564.1,113.6 565.1,117.4 566.1,121.3 566.9,125.2 567.5,129.2 568.0,133.2 568.6,137.1 569.1,141.1 569.6,145.1 570.1,149.0 570.5,153.0 570.9,157.0 571.2,161.0 571.6,165.0 572.0,168.9 572.4,172.9 572.8,176.9 573.2,180.9 573.6,184.9 574.0,188.8 574.4,192.8 574.8,196.8 575.2,200.8 575.6,204.8 576.0,208.8 576.4,212.7 576.8,216.7 577.2,220.7 577.7,224.7 578.2,228.6 578.8,232.6 579.3,236.6 579.9,240.5 580.4,244.5 580.9,248.5 581.5,252.4 582.0,256.4 582.5,260.4 583.0,264.3 583.6,268.3 584.1,272.3 584.6,276.2 585.1,280.2 585.6,284.2 586.1,288.1 586.4,292.1 586.7,296.1 586.9,300.1 587.1,304.1 587.3,308.1 587.6,312.1 587.9,316.1 588.3,320.1 588.7,324.1 589.0,328.0 589.4,332.0 589.8,336.0 590.2,340.0 590.6,344.0 591.0,348.0 591.4,351.9 591.8,355.9 592.2,359.9 592.6,363.9 593.0,367.9 593.3,371.8 593.6,375.8 593.8,379.8 594.1,383.8 594.3,387.8 594.6,391.8 594.9,395.8 595.1,399.8 595.4,403.8 595.7,407.8 596.0,411.8 596.3,415.8 596.6,419.7 597.0,423.7 597.3,427.7 597.6,431.7 598.0,435.7 598.3,439.7 598.6,443.7 599.0,447.7 599.3,451.6 599.6,455.6 600.0,459.6 600.3,463.6 600.6,467.6 601.0,471.6 601.3,475.6 601.6,479.6 601.9,483.6 602.3,487.5 602.6,491.5 603.0,495.5 603.5,499.5 603.9,503.5 604.3,507.4 604.8,511.4 605.2,515.4 605.6,519.4 606.0,523.4 606.3,527.3 606.7,531.3 607.0,535.3 607.3,539.3 607.6,543.3 607.9,547.3 608.1,551.3 608.4,555.3 608.7,559.3 608.9,563.3 609.2,567.3 609.4,571.3 609.7,575.2 610.0,579.2 610.3,583.2 610.7,587.2 611.1,591.2 611.5,595.2 611.9,599.2 612.3,603.1 612.7,607.1 613.1,611.1 613.5,615.1 613.9,619.1 614.3,623.0 614.7,627.0 615.1,631.0 615.5,635.0 615.8,639.0 616.1,643.0 616.5,647.0 616.8,650.9 617.1,654.9 617.4,658.9 617.7,662.9 618.1,666.9 618.4,670.9 618.7,674.9 619.0,678.9 619.3,682.9 619.7,686.8 620.0,690.8 620.3,694.8 620.6,698.8 621.0,702.8 621.3,706.8 621.7,710.8 622.1,714.7 622.5,718.7 623.0,722.7 623.4,726.7 623.8,730.7 624.2,734.6 624.6,738.6 625.0,742.6 625.4,746.6 625.8,750.6 626.2,754.6 626.6,758.5 627.0,762.5 627.4,766.5 627.8,770.5 628.2,774.5 628.6,778.4 629.0,782.4 629.4,786.4 629.8,790.4 630.2,794.4 630.6,798.4 631.0,802.3 631.3,806.3 631.7,810.3 632.1,814.3 632.5,818.3 632.9,822.2 633.4,826.2 633.9,830.2 634.4,834.2 635.0,838.1 635.5,842.1 636.1,846.0 636.6,850.0 637.2,854.0 637.7,857.9 638.2,861.9 638.6,865.9 638.9,869.9 639.3,873.9 639.7,877.8 640.1,881.8 640.5,885.8 640.9,889.8 641.2,893.8 641.6,897.8 642.0,901.7 642.4,905.7 642.8,909.7 643.1,913.7 643.5,917.7 643.9,921.7 644.3,925.6 644.7,929.6 645.1,933.6 645.7,937.6 646.2,941.5 646.8,945.5 647.4,949.5 647.9,953.4 648.5,957.4 649.0,961.3 649.6,965.3 650.2,969.3 650.7,973.2 651.3,977.2 651.9,981.1 652.5,985.1 653.2,989.0 653.8,993.0 654.5,996.9 655.1,1000.9 655.8,1004.8 656.4,1008.8 657.1,1012.7 657.7,1016.7 658.4,1020.6 659.0,1024.6 659.6,1028.5 660.2,1032.5 660.9,1036.4 661.5,1040.4 662.1,1044.3 662.9,1048.3 663.7,1052.2 664.7,1056.1 665.7,1059.9 666.6,1063.8 667.6,1067.7 668.5,1071.6 669.5,1075.5 670.5,1079.4 671.5,1083.2 672.4,1087.1 673.2,1091.1 674.0,1095.0 674.8,1098.9 675.6,1102.8 676.6,1106.7 677.7,1110.5 679.0,1114.3 680.2,1118.1 681.4,1121.9 682.5,1125.8 683.5,1129.7 684.6,1133.5 685.7,1137.4 686.9,1141.2 688.1,1145.0 689.5,1148.7 690.9,1152.5 692.4,1156.2 693.9,1159.9 695.5,1163.6 697.3,1167.1 699.3,1170.6 701.4,1174.0 703.7,1177.2 706.4,1180.2 709.2,1183.1 712.0,1185.9 714.9,1188.5 718.2,1190.7 721.7,1192.6 725.3,1194.4 728.9,1196.2 732.6,1197.7 736.4,1198.9 740.2,1199.9 744.1,1200.7 748.1,1201.2 752.0,1201.1 756.0,1200.7 760.0,1200.4 763.8,1199.6 767.2,1197.9 770.2,1195.4 773.2,1193.7 776.2,1194.3 779.3,1196.5 782.6,1198.3 786.4,1198.8 790.3,1198.8 794.3,1198.7 798.3,1198.6 802.3,1198.5 806.3,1198.4 810.3,1198.3 814.3,1198.2 818.3,1198.1 822.3,1198.0 826.3,1197.9 830.3,1197.8 834.3,1197.8 838.3,1197.7 842.3,1197.6 846.3,1197.5 850.3,1197.4 854.3,1197.3 858.3,1197.2 862.3,1197.0 866.1,1196.3 869.7,1194.6 873.1,1192.6 876.4,1190.4 879.4,1187.8 882.0,1184.9 883.8,1182.6"/>
<polyline stroke="#0000ff" points="1050.2,1198.9 1053.1,1198.7 1057.0,1198.5 1061.0,1198.2 1065.0,1197.9 1069.0,1197.6 1073.0,1197.4 1077.0,1197.1 1081.0,1196.8 1085.0,1196.6 1089.0,1196.3 1093.0,1196.0 1097.0,1195.7 1101.0,1195.5 1105.0,1195.2 1109.0,1194.9 1113.0,1194.5 1117.0,1194.0 1120.9,1193.4 1124.9,1192.8 1128.9,1192.2 1132.8,1191.6 1136.8,1191.0 1140.8,1190.5 1144.8,1190.2 1148.8,1189.9 1152.8,1189.6 1156.8,1189.4 1160.8,1189.1 1164.8,1188.8 1168.8,1188.6 1172.8,1188.3 1176.8,1187.9 1180.7,1187.4 1184.7,1186.9 1188.7,1186.4 1192.7,1186.0 1196.7,1185.5 1200.7,1185.0 1204.6,1184.6 1208.6,1184.1 1212.6,1183.8 1216.6,1183.6 1220.6,1183.5 1224.6,1183.3 1228.6,1183.2 1232.7,1183.1 1236.7,1182.9 1240.7,1182.8 1244.7,1182.7 1248.7,1182.5 1252.7,1182.2 1256.7,1181.8 1260.7,1181.4 1264.6,1180.9 1268.6,1180.5 1272.6,1180.1 1276.6,1179.7 1280.6,1179.3 1284.6,1179.0 1288.6,1178.7 1292.6,1178.5 1296.6,1178.2 1300.6,1177.9 1304.6,1177.6 1308.6,1177.4 1312.6,1177.1 1316.6,1176.8 1320.6,1176.6 1324.6,1176.4 1328.6,1176.2 1332.6,1176.2 1336.6,1176.1 1340.6,1176.0 1344.7,1175.9 1348.7,1175.9 1352.7,1175.8 1356.7,1175.7 1360.7,1175.6 1364.7,1175.6 1368.7,1175.5 1372.7,1175.4 1376.7,1175.3 1380.7,1175.3 1384.8,1175.2 1388.8,1175.1 1392.8,1175.0 1396.8,1175.0 1400.8,1174.9 1404.8,1175.0 1408.8,1175.0 1412.8,1175.1 1416.8,1175.2 1420.8,1175.2 1424.8,1175.3 1428.9,1175.4 1432.9,1175.4 1436.9,1175.5 1440.9,1175.5 1444.9,1175.6 1448.9,1175.7 1452.9,1175.7 1456.9,1175.8 1460.9,1175.9 1464.9,1175.9 1469.0,1176.0 1473.0,1176.0 1477.0,1176.1 1481.0,1176.2 1485.0,1176.2 1489.0,1176.2 1493.0,1175.9 1497.0,1175.5 1501.0,1175.1 1505.0,1174.7 1509.0,1174.3 1512.9,1173.9 1516.9,1173.5 1520.9,1173.1 1524.9,1172.7 1528.9,1172.3 1532.9,1171.8 1536.9,1171.3 1540.9,1170.9 1544.8,1170.4 1548.8,1169.9 1552.8,1169.4 1556.8,1168.9 1560.7,1168.3 1564.7,1167.8 1568.7,1167.4 1572.7,1166.9 1576.7,1166.5 1580.7,1166.1 1584.7,1165.8 1588.7,1165.4 1592.7,1165.0 1596.6,1164.7 1600.6,1164.3 1604.6,1164.1 1608.6,1163.9 1612.7,1163.8 1616.7,1163.8 1620.7,1163.7 1624.7,1163.6 1628.7,1163.5 1632.7,1163.5 1636.7,1163.4 1640.7,1163.3 1644.7,1163.2 1648.7,1163.2 1652.7,1163.1 1656.8,1163.0 1660.8,1162.9 1664.8,1162.8 1668.8,1162.8 1672.8,1162.7 1676.8,1162.6 1680.8,1162.6 1684.8,1162.6 1688.8,1162.6 1692.8,1162.6 1696.9,1162.6 1700.9,1162.6 1704.9,1162.6 1708.9,1162.6 1712.9,1162.6 1716.9,1162.6 1720.9,1162.6 1724.9,1162.5 1728.7,1161.8 1732.4,1160.3 1736.0,1158.6 1739.7,1157.0 1743.5,1155.8 1747.4,1154.9 1751.3,1154.1 1755.2,1153.2 1759.1,1152.3 1763.0,1151.4 1766.9,1150.6 1770.9,1149.8 1774.8,1148.9 1778.7,1148.1 1782.6,1147.3 1786.6,1146.6 1790.6,1146.3 1794.6,1146.3 1798.6,1146.3 1802.6,1146.3 1806.6,1146.3 1810.6,1146.2 1814.5,1145.7 1818.3,1144.6 1821.7,1143.4 1822.9,1143.0"/>
<polyline stroke="#0000ff" points="791.1,1203.7 792.4,1200.2 793.7,1196.5 795.1,1192.7 796.5,1189.0 797.9,1185.2 799.2,1181.4 800.6,1177.7 801.9,1173.9 803.2,1170.1 804.4,1166.3 805.7,1162.5 807.0,1158.7 808.2,1154.9 809.5,1151.1 810.8,1147.3 812.0,1143.5 813.3,1139.7 814.4,1135.9 815.5,1132.0 816.6,1128.2 817.8,1124.3 818.9,1120.5 820.0,1116.7 821.1,1112.8 822.2,1109.0 823.4,1105.1 824.4,1101.3 825.4,1097.4 826.3,1093.5 827.3,1089.6 828.3,1085.7 829.2,1081.8 830.1,1077.9 830.9,1074.0 831.7,1070.1 832.5,1066.2 833.3,1062.2 834.0,1058.3 834.8,1054.4 835.6,1050.5 836.4,1046.5 837.2,1042.6 837.8,1038.7 838.5,1034.7 839.1,1030.8 839.8,1026.8 840.5,1022.9 841.1,1018.9 841.8,1015.0 842.4,1011.0 843.1,1007.1 843.7,1003.1 844.4,999.2 845.1,995.2 845.7,991.3 846.4,987.3 847.0,983.4 847.7,979.4 848.4,975.5 849.0,971.5 849.6,967.6 850.1,963.6 850.7,959.7 851.2,955.7 851.7,951.7 852.3,947.8 852.8,943.8 853.3,939.8 853.8,935.9 854.4,931.9 854.9,927.9 855.4,923.9 855.9,920.0 856.5,916.0 857.0,912.0 857.5,908.1 858.0,904.1 858.5,900.1 859.0,896.2 859.4,892.2 859.8,888.2 860.3,884.2 860.7,880.2 861.1,876.3 861.5,872.3 861.9,868.3 862.3,864.3 862.7,860.3 863.1,856.3 863.6,852.4 864.1,848.4 864.6,844.4 865.1,840.5 865.6,836.5 866.0,832.5 866.5,828.5 866.9,824.6 867.3,820.6 867.7,816.6 868.1,812.6 868.5,808.6 868.9,804.6 869.3,800.7 869.7,796.7 870.1,792.7 870.5,788.7 870.9,784.7 871.3,780.7 871.7,776.8 872.1,772.8 872.5,768.8 873.0,764.8 873.4,760.8 873.8,756.9 874.2,752.9 874.6,748.9 875.0,744.9 875.5,740.9 876.0,737.0 876.5,733.0 877.1,729.0 877.6,725.1 878.1,721.1 878.6,717.1 879.1,713.2 879.7,709.2 880.2,705.2 880.7,701.3 881.2,697.3 881.8,693.3 882.3,689.4 882.9,685.4 883.4,681.4 883.9,677.5 884.5,673.5 885.0,669.5 885.6,665.6 886.1,661.6 886.5,657.6 886.8,653.6 887.2,649.6 887.6,645.7 888.0,641.7 888.4,637.7 888.8,633.7 889.2,629.7 889.5,625.7 889.9,621.7 890.5,617.8 891.2,613.8 891.9,609.9 892.6,606.0 893.2,602.0 893.9,598.1 894.6,594.1 895.3,590.2 895.9,586.2 896.6,582.3 897.2,578.3 897.5,574.3 897.9,570.4 898.3,566.4 898.7,562.4 899.1,558.4 899.5,554.4 899.9,550.4 900.2,546.5 900.6,542.5 901.0,538.5 901.4,534.5 901.8,530.5 902.2,526.5 902.6,522.6 903.1,518.6 903.5,514.6 903.9,510.6 904.3,506.6 904.7,502.6 905.1,498.7 905.6,494.7 906.2,490.7 906.8,486.8 907.4,482.8 908.0,478.9 908.6,474.9 909.1,470.9 909.5,467.0 909.9,463.0 910.2,459.0 910.5,455.0 910.9,451.0 911.2,447.0 911.5,443.0 911.8,439.0 912.2,435.1 912.8,431.1 913.3,427.1 913.8,423.1 914.3,419.2 914.8,415.2 915.3,411.2 915.8,407.3 916.3,403.3 916.9,399.3 917.5,395.4 918.1,391.4 918.7,387.5 919.3,383.5 919.9,379.5 920.5,375.6 921.1,371.6 921.6,367.7 922.2,363.7 922.8,359.8 923.4,355.8 924.0,351.8 924.7,347.9 925.5,344.0 926.2,340.0 927.0,336.1 927.8,332.2 928.6,328.3 929.4,324.3 930.1,320.4 930.5,316.4 931.0,312.4 931.4,308.5 931.9,304.5 932.3,300.5 932.8,296.5 933.2,292.6 933.7,288.6 934.3,284.6 935.1,280.7 935.9,276.8 936.6,272.9 937.4,268.9 938.2,265.0 939.0,261.1 939.7,257.1 940.3,253.2 940.9,249.2 941.5,245.3 942.1,241.3 942.7,237.3 943.3,233.4 944.1,229.5 945.2,225.6 946.3,221.8 947.4,217.9 948.5,214.1 949.4,210.2 950.2,206.3 951.0,202.4 951.8,198.4 952.6,194.5 953.4,190.6 954.2,186.7 955.0,182.7 955.8,178.8 956.9,175.0 958.0,171.1 959.0,167.3 960.1,163.4 961.2,159.5 962.3,155.7 963.4,151.8 964.5,148.0 965.6,144.2 966.9,140.4 968.4,136.7 969.8,132.9 971.4,129.3 973.2,125.7 975.0,122.1 976.8,118.5 979.4,115.7 982.2,116.7 985.0,119.5 988.1,122.1 990.8,122.9 992.2,119.5 993.4,115.7 994.2,111.8 994.8,107.8 995.4,103.8 997.3,102.2 999.5,104.7 1000.0,108.6 1000.4,112.6 1001.2,116.5 1002.5,120.3 1003.8,124.1 1005.0,125.9 1005.8,122.4 1006.6,118.5 1007.4,114.6 1008.3,112.9 1009.6,116.3 1010.8,120.1 1011.9,124.0 1012.8,127.9 1013.8,131.6 1015.3,131.1 1017.1,128.0 1018.9,130.2 1020.4,133.9 1021.2,137.8 1021.8,141.8 1022.5,145.7 1023.1,149.6 1024.6,153.3 1027.0,156.5 1029.4,159.7 1031.8,162.9 1033.8,166.3 1035.6,169.9 1037.4,173.4 1039.1,177.1 1040.4,180.9 1041.6,184.7 1042.9,188.5 1044.1,192.3 1045.3,196.1 1046.6,199.9 1047.9,203.7 1049.8,207.2 1051.8,210.6 1053.8,214.1 1055.8,217.6 1057.7,221.1 1059.7,224.6 1061.6,228.1 1063.3,231.7 1064.9,235.4 1066.5,239.0 1068.1,242.7 1069.8,246.4 1071.4,250.0 1073.0,253.7 1074.6,257.3 1076.0,261.1 1077.1,264.9 1078.3,268.8 1079.4,272.6 1080.6,276.4 1081.7,280.3 1082.9,284.1 1084.0,287.9 1085.2,291.8 1086.3,295.6 1087.5,299.4 1088.6,303.3 1089.8,307.1 1091.0,310.9 1092.1,314.8 1093.3,318.6 1094.4,322.4 1095.6,326.3 1096.6,330.1 1097.6,334.0 1098.5,337.9 1099.5,341.8 1100.5,345.7 1101.4,349.6 1102.4,353.4 1103.3,357.3 1104.3,361.2 1105.7,365.0 1107.1,368.7 1108.5,372.5 1109.9,376.2 1111.3,380.0 1112.7,383.7 1114.1,387.5 1115.3,391.3 1116.2,395.2 1117.2,399.0 1118.2,402.9 1119.2,406.8 1120.1,410.7 1121.1,414.6 1122.1,418.5 1123.0,422.3 1124.0,426.2 1125.0,430.1 1126.0,434.0 1126.9,437.9 1127.9,441.8 1128.9,445.6 1129.8,449.5 1130.8,453.4 1131.8,457.3 1133.2,461.0 1134.6,464.8 1136.0,468.5 1137.4,472.3 1138.8,476.0 1140.2,479.8 1141.6,483.5 1142.9,487.3 1144.1,491.1 1145.3,495.0 1146.4,498.8 1147.6,502.6 1148.8,506.4 1150.0,510.2 1151.2,514.1 1152.3,517.9 1153.3,521.8 1154.4,525.6 1155.5,529.5 1156.5,533.4 1157.6,537.2 1158.7,541.1 1159.9,544.9 1161.2,548.7 1162.5,552.4 1163.9,556.2 1165.2,560.0 1166.6,563.8 1167.9,567.5 1169.0,571.4 1169.7,575.3 1170.3,579.3 1171.0,583.2 1171.6,587.1 1172.3,591.1 1172.9,595.0 1173.8,598.9 1175.0,602.8 1176.2,606.6 1177.4,610.4 1178.6,614.2 1179.7,618.1 1180.9,621.9 1182.1,625.7 1183.5,629.5 1184.9,633.2 1186.4,636.9 1187.8,640.7 1189.2,644.4 1190.7,648.1 1192.1,651.9 1193.6,655.6 1194.9,659.4 1196.3,663.1 1197.6,666.9 1198.9,670.7 1200.3,674.5 1201.6,678.2 1203.0,682.0 1204.3,685.8 1205.6,689.6 1206.9,693.3 1208.2,697.1 1209.4,700.9 1210.7,704.7 1212.0,708.5 1213.2,712.3 1214.7,716.1 1216.4,719.7 1218.2,723.2 1220.0,726.8 1221.8,730.4 1223.6,734.0 1225.4,737.6 1227.2,741.1 1229.0,744.7 1230.7,748.3 1232.5,751.9 1234.3,755.5 1236.1,759.0 1237.9,762.6 1239.7,766.2 1241.4,769.8 1242.7,773.6 1244.0,777.4 1245.3,781.2 1246.5,785.0 1247.8,788.8 1249.1,792.6 1250.3,796.4 1251.7,800.1 1253.2,803.8 1254.6,807.6 1256.1,811.3 1257.5,815.0 1259.0,818.7 1261.0,822.2 1263.0,825.7 1265.1,829.1 1267.2,832.5 1269.2,836.0 1271.3,839.4 1273.3,842.8 1275.4,846.3 1277.3,849.8 1279.0,853.4 1280.6,857.1 1282.2,860.7 1283.8,864.4 1285.5,868.0 1287.1,871.7 1288.7,875.3 1290.5,878.9 1292.3,882.5 1294.1,886.1 1295.9,889.7 1297.6,893.3 1299.4,896.8 1301.2,900.4 1303.0,904.0 1305.0,907.5 1307.1,910.9 1309.2,914.3 1311.3,917.7 1313.5,921.1 1315.6,924.5 1317.7,927.8 1319.8,931.2 1322.0,934.6 1324.1,938.0 1326.3,941.4 1328.4,944.7 1330.6,948.1 1332.7,951.5 1334.9,954.9 1337.0,958.3 1339.2,961.6 1341.5,964.9 1343.9,968.1 1346.3,971.3 1348.7,974.5 1351.1,977.7 1353.5,980.9 1355.9,984.1 1358.3,987.3 1360.7,990.5 1363.1,993.7 1365.5,996.9 1367.9,1000.1 1370.3,1003.3 1372.7,1006.5 1375.2,1009.7 1377.7,1012.7 1380.4,1015.8 1383.0,1018.8 1385.6,1021.8 1388.3,1024.8 1390.9,1027.8 1393.6,1030.8 1396.2,1033.8 1399.2,1036.5 1402.2,1039.1 1405.2,1041.7 1408.3,1044.3 1411.3,1046.9 1414.4,1049.5 1417.4,1052.1 1420.4,1054.8 1423.4,1057.4 1426.4,1060.0 1429.4,1062.7 1432.4,1065.3 1435.4,1068.0 1438.5,1070.6 1441.5,1073.2 1444.9,1075.4 1448.3,1077.5 1451.7,1079.6 1455.1,1081.7 1458.5,1083.8 1461.9,1085.9 1465.3,1088.0 1468.8,1089.8 1472.4,1091.6 1476.0,1093.4 1479.6,1095.2 1483.2,1097.0 1486.8,1098.7 1490.3,1100.6 1493.7,1102.7 1497.1,1104.9 1500.5,1107.0 1503.8,1109.1 1507.2,1111.3 1510.6,1113.4 1514.1,1115.4 1517.7,1117.2 1521.3,1118.9 1524.9,1120.6 1528.5,1122.4 1532.1,1124.1 1535.7,1125.9 1539.1,1127.9 1542.5,1130.0 1545.9,1132.1 1549.3,1134.2 1552.8,1136.2 1556.5,1137.7 1560.2,1139.2 1564.0,1140.7 1567.7,1142.2 1571.4,1143.7 1575.1,1145.2 1578.8,1146.6 1582.5,1148.1 1586.2,1149.6 1590.0,1151.1 1593.7,1152.6 1597.4,1154.1 1601.1,1155.5 1604.8,1157.0 1608.6,1158.5 1612.3,1159.8 1616.3,1160.6 1620.2,1161.4 1624.1,1162.1 1628.0,1162.9 1632.0,1163.7 1635.8,1164.7 1639.7,1165.7 1643.6,1166.7 1647.4,1167.8 1651.3,1168.8 1655.2,1169.9 1659.1,1170.7 1663.0,1171.5 1666.9,1172.2 1670.9,1173.0 1674.8,1173.8 1678.7,1174.8 1682.4,1176.2 1686.1,1177.7 1689.8,1179.2 1693.6,1180.5 1697.5,1181.3 1701.4,1182.1 1705.4,1182.9 1709.3,1183.6 1713.2,1184.4 1717.1,1185.2 1721.1,1186.0 1725.0,1186.8 1728.9,1187.6 1732.8,1188.3 1736.8,1189.1 1740.7,1189.9 1744.6,1190.7 1748.5,1191.5 1752.5,1192.3 1756.4,1193.0 1760.3,1193.8 1764.2,1194.6 1768.2,1195.4 1772.1,1196.2 1776.1,1196.5 1780.1,1196.5 1784.1,1196.5 1788.1,1196.5 1792.1,1196.5 1796.1,1196.5 1800.1,1196.8 1804.1,1197.2 1808.0,1197.5 1812.0,1197.8 1816.0,1198.1 1820.0,1198.5 1823.7,1198.8"/>
<polyline stroke="#0000ff" points="272.3,767.6 272.3,764.7 272.3,760.8 272.3,756.8 272.3,752.8 272.3,748.8 272.3,744.8 272.3,740.8 272.3,736.8 272.3,732.8 272.3,728.8 272.3,724.8 272.3,720.8 272.3,716.8 272.3,712.8 272.3,708.8 272.3,704.8 272.3,700.8 272.3,696.8 272.3,692.8 272.3,688.8 272.3,684.8 272.3,680.8 272.3,676.8 272.3,672.8 272.3,668.7 272.3,664.7 272.3,660.7 272.3,656.7 272.3,652.7 272.3,648.7 272.3,644.7 272.4,640.7 272.8,636.8 273.3,632.8 273.7,628.8 274.0,624.8 274.4,620.8 274.7,616.9 275.0,612.9 275.3,608.9 275.6,604.9 275.9,600.9 276.0,596.9 276.0,592.9 276.0,588.9 276.0,584.9 276.0,580.9 276.0,576.9 276.0,572.9 276.0,568.9 276.0,564.9 276.0,560.9 276.0,556.9 276.0,552.9 276.0,548.9 276.0,544.9 276.0,540.9 276.0,536.9 276.0,532.9 276.0,528.9 276.0,524.9 276.0,520.9 276.0,516.9 276.0,512.9 276.0,508.9 276.0,504.9 276.0,500.9 276.0,496.9 276.0,492.8 276.0,488.8 276.0,484.8 276.0,480.8 276.0,476.8 276.0,472.8 276.0,468.8 276.0,464.8 276.1,460.8 276.2,456.8 276.3,452.8 276.4,448.8 276.5,444.8 276.6,440.8 276.7,436.8 276.8,432.8 276.9,428.8 277.0,424.8 277.1,420.8 277.2,416.8 277.3,412.8 277.4,408.8 277.5,404.8 277.6,400.8 277.7,396.8 277.8,392.8 277.9,388.8 278.0,384.8 278.1,380.8 278.2,376.8 278.3,372.8 278.4,368.8 278.6,364.8 278.7,360.8 278.8,356.8 278.9,352.8 279.1,348.8 279.3,344.8 279.5,340.8 279.7,336.8 279.9,332.8 280.1,328.8 280.3,324.8 280.5,320.8 280.7,316.8 280.9,312.8 281.1,308.9 281.3,304.9 281.5,300.9 281.7,296.9 281.9,292.9 282.1,288.9 282.3,284.9 282.6,280.9 282.8,276.9 282.9,272.9 283.1,268.9 283.2,264.9 283.3,260.9 283.4,256.9 283.5,252.9 283.7,248.9 283.8,244.9 283.9,240.9 284.0,236.9 284.1,232.9 284.2,228.9 284.3,224.9 284.5,220.9 284.6,216.9 284.7,212.9 284.8,208.9 284.9,204.9 285.0,200.9 285.2,196.9 285.4,192.9 285.7,188.9 286.0,184.9 286.2,180.9 286.5,176.9 286.8,172.9 287.1,168.9 287.4,164.9 287.7,160.9 288.0,157.0 288.3,153.0 288.6,149.0 288.9,145.0 289.2,141.0 289.5,137.0 289.8,133.0 290.1,129.0 290.5,125.0 291.0,121.1 291.5,117.1 292.2,113.2 293.5,109.5 295.1,106.5 296.9,106.5 299.0,109.2 301.0,112.6 302.9,116.2 304.2,119.9 305.3,123.7 306.2,127.6 306.9,131.6 307.5,135.5 308.0,139.5 308.5,143.4 309.1,147.4 309.6,151.4 310.2,155.3 310.7,159.3 311.3,163.3 311.8,167.2 312.4,171.2 313.0,175.2 313.6,179.1 314.2,183.1 314.8,187.0 315.5,191.0 316.0,194.9 316.4,198.9 316.6,202.9 316.8,206.9 317.0,210.9 317.2,214.9 317.5,218.9 317.9,222.9 318.3,226.8 318.7,230.8 319.1,234.8 319.5,238.8 319.9,242.8 320.3,246.8 320.7,250.7 321.1,254.7 321.5,258.7 321.9,262.7 322.3,266.7 322.7,270.6 323.1,274.6 323.6,278.6 324.1,282.6 324.6,286.5 325.1,290.5 325.6,294.5 326.1,298.4 326.6,302.4 327.1,306.4 327.6,310.4 328.1,314.3 328.6,318.3 329.1,322.3 329.6,326.2 329.9,330.2 330.2,334.2 330.5,338.2 330.8,342.2 331.1,346.2 331.4,350.2 331.7,354.2 332.0,358.2 332.3,362.2 332.6,366.1 332.9,370.1 333.2,374.1 333.5,378.1 333.8,382.1 334.1,386.1 334.4,390.1 334.7,394.1 335.0,398.1 335.3,402.1 335.6,406.1 335.9,410.0 336.2,414.0 336.5,418.0 336.8,422.0 337.1,426.0 337.4,430.0 337.7,434.0 338.0,438.0 338.4,442.0 338.7,446.0 339.1,449.9 339.4,453.9 339.8,457.9 340.3,461.9 340.8,465.9 341.3,469.8 341.9,473.8 342.4,477.7 342.9,481.7 343.5,485.7 344.0,489.6 344.5,493.6 344.9,497.6 345.1,501.6 345.3,505.6 345.5,509.6 345.7,513.6 345.9,517.6 346.1,521.6 346.3,525.6 346.5,529.6 346.8,533.6 347.0,537.6 347.2,541.6 347.4,545.6 347.7,549.5 348.1,553.5 348.6,557.5 349.1,561.5 349.5,565.4 350.0,569.4 350.4,573.4 350.9,577.4 351.3,581.3 351.8,585.3 352.3,589.3 352.9,593.3 353.4,597.2 353.9,601.2 354.4,605.2 354.9,609.1 355.5,613.1 356.0,617.1 356.5,621.0 357.0,625.0 357.4,629.0 357.9,633.0 358.3,636.9 358.7,640.9 359.1,644.9 359.5,648.9 359.9,652.9 360.3,656.8 360.8,660.8 361.2,664.8 361.7,668.8 362.3,672.7 362.9,676.7 363.5,680.6 364.2,684.6 364.8,688.5 365.4,692.5 366.0,696.5 366.6,700.4 367.2,704.4 367.8,708.3 368.5,712.3 369.1,716.2 369.7,720.2 370.3,724.1 371.0,728.1 371.6,732.0 372.2,736.0 372.8,740.0 373.4,743.9 374.0,747.9 374.6,751.8 375.2,755.8 376.0,759.7 377.2,763.5 378.6,767.2 380.1,770.9 381.4,774.7 382.3,778.6 383.1,782.5 383.9,786.4 384.8,790.3 385.8,794.2 386.9,798.1 388.0,801.9 389.1,805.7 390.4,809.5 391.6,813.3 393.0,817.1 394.5,820.8 396.0,824.5 397.7,828.1 399.7,831.5 402.4,834.4 405.3,837.2 408.2,839.9 411.2,842.5 414.5,844.2 418.3,844.7 422.3,844.7 426.3,844.7 430.3,844.7 434.3,844.7 438.3,844.7 442.3,844.7 446.3,844.7 450.2,845.1 453.7,846.4 457.2,848.2 460.9,849.3 464.8,850.2 468.6,851.2 471.9,853.0 474.6,855.8 477.2,858.8 479.9,861.8 482.7,864.6 485.8,867.2 488.8,869.8 491.7,872.5 494.2,875.6 496.5,878.9 498.7,882.2 501.0,885.5 503.2,888.8 505.5,892.1 507.6,895.5 509.3,899.1 510.7,902.8 512.0,906.6 513.4,910.4 514.9,914.1 516.4,917.8 517.9,921.5 519.5,925.2 521.0,928.9 522.5,932.6 524.0,936.3 525.6,940.0 527.1,943.7 528.6,947.4 530.2,951.1 531.7,954.8 533.2,958.5 534.8,962.2 536.3,965.8 537.9,969.5 539.4,973.2 541.0,976.9 542.7,980.5 544.3,984.2 546.0,987.8 547.6,991.5 549.3,995.1 550.9,998.8 552.6,1002.4 554.1,1006.1 555.7,1009.8 557.2,1013.5 558.7,1017.2 560.3,1020.9 561.8,1024.6 563.3,1028.3 564.9,1032.0 566.4,1035.7 568.0,1039.4 569.5,1043.0 571.1,1046.7 572.6,1050.4 574.1,1054.1 575.7,1057.8 577.5,1061.4 579.5,1064.8 581.6,1068.3 583.6,1071.7 585.7,1075.1 587.8,1078.5 589.9,1081.9 592.2,1085.2 594.7,1088.3 597.4,1091.3 600.0,1094.3 602.7,1097.2 605.3,1100.2 608.0,1103.2 610.9,1105.9 614.2,1108.0 617.8,1109.9 621.3,1111.7 624.9,1113.4 628.6,1115.0 632.3,1116.6 636.0,1118.1 639.7,1119.5 643.5,1120.7 647.4,1121.7 651.3,1122.7 655.1,1123.8 659.0,1124.9 662.8,1126.0 666.7,1127.2 670.5,1128.3 674.3,1129.4 678.2,1130.3 682.1,1130.4 686.1,1130.0 690.1,1129.6 694.0,1129.1 698.0,1128.8 701.9,1129.2 705.7,1130.3 709.4,1131.7 713.2,1133.1 716.9,1134.5 720.1,1136.6 722.5,1139.5 724.6,1142.9 726.9,1146.1 729.7,1148.7 733.2,1150.6 736.7,1152.4 740.3,1154.2 743.9,1156.0 747.5,1157.8 751.1,1159.5 754.8,1161.1 758.5,1162.6 762.2,1164.1 765.9,1165.6 769.6,1167.1 773.3,1168.5 777.1,1169.9 780.9,1171.2 784.7,1172.3 788.6,1173.5 792.4,1174.6 796.2,1175.8 800.1,1176.9 803.9,1178.0 807.8,1178.9 811.7,1179.9 815.6,1180.9 819.4,1182.0 823.2,1183.3 826.9,1184.8 830.6,1186.3 834.3,1187.8 838.0,1189.2 841.8,1190.7 845.6,1191.9 849.5,1192.8 853.4,1193.6 857.3,1194.4 861.2,1195.2 865.1,1195.9 869.1,1196.6 873.1,1197.0 877.1,1197.3 881.0,1197.6 885.0,1197.9 889.0,1198.2 893.0,1198.5 896.6,1198.8 897.9,1198.9"/>
<polyline stroke="#ff0000" points="257.5,1034.8 257.5,1031.9 257.5,1028.0 257.5,1024.0 257.5,1020.0 257.5,1016.0 257.5,1012.0 257.5,1008.0 257.5,1004.0 257.5,1000.0 257.5,996.0 257.5,992.0 257.5,988.0 257.5,984.0 257.5,980.0 257.5,976.0 257.5,972.0 257.5,968.0 257.5,964.0 257.5,960.0 257.5,956.0 257.5,952.0 257.5,948.0 257.5,944.0 257.5,940.0 257.5,936.0 257.5,932.0 257.5,928.0 257.6,924.0 258.1,920.1 259.0,916.4 259.5,912.6 259.5,908.6 259.6,904.6 259.6,900.6 259.6,896.6 259.6,892.6 259.6,888.6 259.7,884.6 259.7,880.6 259.7,876.6 259.7,872.6 259.8,868.6 259.8,864.6 259.8,860.6 259.8,856.6 259.8,852.6 259.8,848.6 259.8,844.6 259.8,840.6 259.8,836.6 259.8,832.6 259.8,828.6 259.8,824.6 259.8,820.6 259.8,816.6 259.8,812.6 259.8,808.6 259.8,804.6 259.8,800.6 259.8,796.6 259.8,792.6 259.8,788.6 259.8,784.6 259.8,780.6 259.8,776.6 259.8,772.6 259.8,768.6 259.8,764.6 259.8,760.6 259.8,756.5 259.8,752.5 259.8,748.5 259.8,744.5 259.8,740.5 259.8,736.5 259.8,732.5 259.8,728.5 259.8,724.5 259.8,720.5 259.8,716.5 259.8,712.5 259.8,708.5 259.8,704.5 259.8,700.5 259.8,696.5 259.8,692.5 259.8,688.5 259.8,684.5 259.8,680.5 259.8,676.5 259.8,672.5 259.8,668.5 259.8,664.5 259.8,660.5 259.8,656.5 259.8,652.5 259.8,648.5 259.8,644.5 259.8,640.5 259.9,636.5 259.9,632.5 260.0,628.5 260.1,624.5 260.1,620.5 260.2,616.5 260.3,612.5 260.4,608.5 260.4,604.5 260.5,600.5 260.5,596.5 260.5,592.5 260.5,588.5 260.5,584.5 260.5,580.5 260.5,576.5 260.5,572.5 260.5,568.5 260.5,564.5 260.5,560.5 260.5,556.5 260.5,552.5 260.5,548.5 260.5,544.5 260.5,540.5 260.5,536.5 260.5,532.5 260.5,528.5 260.5,524.5 260.5,520.5 260.5,516.5 260.5,512.5 260.5,508.5 260.5,504.5 260.5,500.5 260.5,496.5 260.5,492.5 260.5,488.5 260.5,484.5 260.5,480.5 260.5,476.5 260.5,472.5 260.5,468.5 260.5,464.5 260.5,460.5 260.6,456.5 260.6,452.5 260.7,448.5 260.8,444.5 260.8,440.5 260.9,436.5 261.0,432.5 261.0,428.5 261.1,424.5 261.2,420.5 261.3,416.5 261.4,412.5 261.4,408.5 261.5,404.5 261.6,400.5 261.7,396.5 261.8,392.5 261.8,388.5 261.9,384.5 262.0,380.5 262.1,376.5 262.2,372.5 262.2,368.5 262.3,364.5 262.4,360.5 262.5,356.5 262.6,352.5 262.7,348.5 262.7,344.5 262.8,340.5 262.9,336.5 263.0,332.5 263.1,328.5 263.1,324.5 263.2,320.5 263.3,316.5 263.4,312.5 263.5,308.5 263.5,304.5 263.6,300.5 263.7,296.5 263.9,292.5 264.0,288.5 264.1,284.5 264.3,280.5 264.4,276.5 264.5,272.5 264.7,268.5 264.8,264.5 265.0,260.5 265.1,256.5 265.2,252.5 265.4,248.5 265.5,244.5 265.6,240.5 265.8,236.5 265.9,232.5 266.2,228.5 266.5,224.5 266.8,220.6 267.2,216.6 267.5,212.6 267.9,208.6 268.2,204.6 268.6,200.6 268.9,196.6 269.2,192.7 269.5,188.7 269.8,184.7 270.0,180.7 270.3,176.7 270.6,172.7 270.9,168.7 271.1,164.7 271.4,160.7 271.7,156.7 272.0,152.7 272.3,148.7 272.5,144.8 272.8,140.8 273.1,136.8 273.4,132.8 273.7,128.8 274.0,124.8 274.4,120.8 275.2,116.9 276.2,113.1 277.3,109.2 278.8,106.0 281.0,105.0 283.0,107.1 284.5,110.7 285.4,114.5 286.3,118.5 287.1,122.4 287.9,126.3 288.3,130.2 288.4,134.2 288.5,138.2 288.6,142.2 288.7,146.2 288.8,150.2 288.9,154.2 289.0,158.2 289.2,162.2 289.4,166.2 289.6,170.2 289.9,174.2 290.1,178.2 290.3,182.2 290.5,186.2 290.9,190.2 291.5,194.1 292.1,198.1 292.7,202.0 293.3,206.0 293.9,209.9 294.5,213.9 295.0,217.9 295.4,221.9 295.7,225.8 296.0,229.8 296.4,233.8 296.7,237.8 297.0,241.8 297.4,245.8 297.7,249.8 298.0,253.8 298.3,257.7 298.7,261.7 299.0,265.7 299.3,269.7 299.6,273.7 299.8,277.7 299.9,281.7 300.1,285.7 300.3,289.7 300.5,293.7 300.7,297.7 300.8,301.7 301.0,305.7 301.2,309.7 301.4,313.7 301.6,317.7 301.8,321.7 302.0,325.6 302.2,329.6 302.5,333.6 302.8,337.6 303.1,341.6 303.4,345.6 303.6,349.6 303.9,353.6 304.2,357.6 304.5,361.6 304.8,365.6 305.1,369.5 305.4,373.5 305.7,377.5 305.9,381.5 306.2,385.5 306.4,389.5 306.6,393.5 306.8,397.5 307.1,401.5 307.3,405.5 307.5,409.5 307.7,413.5 307.9,417.5 308.2,421.5 308.4,425.5 308.6,429.5 308.8,433.4 309.0,437.4 309.1,441.4 309.2,445.4 309.3,449.4 309.4,453.4 309.5,457.4 309.6,461.4 309.9,465.4 310.2,469.4 310.4,473.4 310.7,477.4 311.0,481.4 311.3,485.4 311.5,489.4 311.8,493.4 312.1,497.4 312.3,501.4 312.5,505.4 312.8,509.3 313.0,513.3 313.3,517.3 313.5,521.3 313.7,525.3 314.0,529.3 314.2,533.3 314.5,537.3 314.8,541.3 315.1,545.3 315.5,549.3 315.9,553.2 316.2,557.2 316.6,561.2 317.0,565.2 317.4,569.2 317.7,573.2 318.1,577.1 318.5,581.1 318.8,585.1 319.1,589.1 319.4,593.1 319.8,597.1 320.1,601.1 320.4,605.1 320.7,609.0 321.0,613.0 321.3,617.0 321.6,621.0 322.0,625.0 322.3,629.0 322.6,633.0 322.9,637.0 323.3,640.9 323.7,644.9 324.1,648.9 324.4,652.9 324.8,656.9 325.2,660.9 325.6,664.8 326.0,668.8 326.3,672.8 326.7,676.8 327.0,680.8 327.3,684.8 327.6,688.8 327.8,692.7 328.1,696.7 328.4,700.7 328.6,704.7 328.9,708.7 329.2,712.7 329.4,716.7 329.7,720.7 330.1,724.7 330.5,728.7 330.9,732.6 331.3,736.6 331.7,740.6 332.1,744.6 332.5,748.6 332.9,752.5 333.3,756.5 333.7,760.5 334.0,764.5 334.4,768.5 334.8,772.4 335.2,776.4 335.6,780.4 336.0,784.4 336.4,788.4 336.8,792.4 337.2,796.3 337.6,800.3 338.0,804.3 338.4,808.3 338.8,812.3 339.3,816.2 339.9,820.2 340.6,824.1 341.3,828.1 342.0,832.0 342.7,835.9 343.5,839.9 344.2,843.8 344.9,847.7 345.5,851.7 346.1,855.6 346.6,859.6 347.1,863.6 347.7,867.5 348.2,871.5 348.8,875.5 349.3,879.4 349.8,883.4 350.5,887.3 351.4,891.2 352.4,895.1 353.4,899.0 354.4,902.8 355.5,906.7 356.5,910.6 357.5,914.4 358.5,918.3 359.6,922.2 360.8,926.0 362.3,929.7 364.0,933.3 365.6,937.0 367.2,940.6 368.9,944.2 370.9,947.6 373.6,950.5 376.5,953.1 379.6,954.9 382.5,954.4 385.5,952.1 388.5,949.4 391.3,946.6 393.7,943.5 395.6,940.0 397.4,936.4 399.2,932.8 401.0,929.3 402.8,925.7 404.5,922.1 406.2,918.5 407.7,914.8 409.3,911.1 410.8,907.4 412.3,903.7 413.9,900.0 415.4,896.3 416.9,892.6 418.3,888.8 419.4,885.0 420.5,881.2 421.6,877.3 422.7,873.5 423.8,869.6 425.0,865.8 426.1,861.9 427.2,858.1 428.3,854.3 429.5,850.4 430.8,846.6 432.0,842.8 433.2,839.0 434.4,835.2 435.7,831.4 436.9,827.6 438.1,823.8 439.3,820.0 440.5,816.2 441.7,812.3 443.0,808.5 444.3,804.8 445.7,801.0 447.0,797.2 448.4,793.5 449.7,789.7 451.1,785.9 452.4,782.2 453.8,778.4 455.1,774.6 456.4,770.8 457.7,767.1 459.0,763.3 460.1,759.4 461.1,755.6 462.1,751.7 463.1,747.8 464.1,744.0 465.1,740.1 466.2,736.2 467.2,732.3 468.2,728.5 469.4,724.6 470.5,720.8 471.6,717.0 472.7,713.1 473.9,709.3 475.0,705.5 476.1,701.6 477.2,697.8 478.4,693.9 479.5,690.1 480.7,686.3 482.0,682.5 483.5,678.8 485.0,675.1 486.6,671.4 488.1,667.7 489.7,664.0 491.2,660.3 492.8,656.7 494.3,653.0 496.0,649.3 497.8,645.8 499.5,642.2 501.3,638.6 503.1,635.0 504.9,631.4 506.7,627.9 508.8,624.6 511.7,621.9 515.0,619.9 518.7,618.3 522.5,617.4 526.4,617.4 530.2,618.2 533.7,619.9 536.5,622.5 538.7,625.8 540.7,629.3 542.6,632.7 544.6,636.2 546.6,639.7 548.5,643.2 550.3,646.8 551.9,650.4 553.4,654.1 555.0,657.8 556.5,661.5 558.0,665.2 559.5,668.9 561.1,672.6 562.5,676.3 563.9,680.1 565.1,683.9 566.2,687.8 567.3,691.6 568.4,695.5 569.5,699.3 570.6,703.2 571.7,707.0 572.8,710.9 573.8,714.7 574.8,718.6 575.6,722.5 576.4,726.4 577.2,730.3 578.0,734.3 578.8,738.2 579.6,742.1 580.4,746.0 581.2,749.9 582.0,753.9 582.8,757.8 583.8,761.7 584.8,765.5 585.8,769.4 586.8,773.3 587.8,777.1 588.9,781.0 589.9,784.9 590.9,788.7 591.9,792.6 592.9,796.5 593.9,800.4 594.7,804.3 595.5,808.2 596.3,812.1 597.1,816.0 597.9,820.0 598.6,823.9 599.4,827.8 600.2,831.7 601.0,835.7 601.8,839.6 602.6,843.5 603.4,847.4 604.1,851.4 604.8,855.3 605.5,859.2 606.0,863.2 606.6,867.2 607.2,871.1 607.7,875.1 608.3,879.0 608.9,883.0 609.4,887.0 610.0,890.9 610.6,894.9 611.3,898.8 612.0,902.8 612.8,906.7 613.6,910.6 614.4,914.5 615.1,918.4 615.9,922.4 616.7,926.3 617.5,930.2 618.3,934.1 619.0,938.1 619.8,942.0 620.6,945.9 621.5,949.8 622.3,953.7 623.2,957.6 624.0,961.5 624.9,965.5 625.7,969.4 626.6,973.3 627.4,977.2 628.3,981.1 629.2,985.0 630.2,988.9 631.1,992.8 632.1,996.6 632.9,1000.5 633.6,1004.5 634.3,1008.4 635.0,1012.4 635.6,1016.3 636.3,1020.3 636.9,1024.2 637.6,1028.2 638.2,1032.1 638.9,1036.1 639.6,1040.0 640.2,1043.9 640.9,1047.9 641.5,1051.8 642.2,1055.8 643.0,1059.7 643.9,1063.6 644.9,1067.5 645.8,1071.4 646.7,1075.3 647.7,1079.1 648.9,1083.0 650.2,1086.7 651.7,1090.4 653.1,1094.2 654.4,1098.0 655.4,1101.8 656.4,1105.7 657.4,1109.6 658.4,1113.4 659.6,1117.3 660.9,1121.0 662.3,1124.8 664.0,1128.4 666.0,1131.8 668.1,1135.2 670.2,1138.6 672.3,1142.0 674.4,1145.4 676.5,1148.9 678.6,1152.2 681.0,1155.4 683.6,1158.5 686.1,1161.6 688.7,1164.6 691.4,1167.6 694.1,1170.5 696.9,1173.3 699.8,1176.2 702.7,1178.8 705.9,1181.2 709.3,1183.3 712.7,1185.4 716.2,1187.4 719.6,1189.5 723.1,1191.5 726.6,1193.3 730.3,1194.6 734.2,1195.5 738.1,1196.3 742.1,1197.0 746.0,1197.8 749.9,1198.5 753.9,1199.0 757.9,1199.3 761.9,1199.5 765.8,1199.7 769.8,1200.0 773.8,1200.2 777.8,1200.4 781.8,1200.6 785.8,1200.8 789.8,1201.0 793.8,1201.2 797.8,1201.3 801.8,1201.5 805.8,1201.6 809.8,1201.7 813.8,1201.8 817.8,1201.8 821.8,1201.9 825.8,1202.0 829.8,1202.1 833.8,1202.2 837.8,1202.2 841.8,1202.3 845.8,1202.4 849.8,1202.5 853.8,1202.6 857.8,1202.6 861.8,1202.7 865.8,1202.8 869.8,1202.9 873.8,1203.0 877.8,1203.1 881.8,1203.1 885.8,1203.2 889.8,1203.3 893.8,1203.4 897.8,1203.4 901.8,1203.5 905.8,1203.5 909.8,1203.5 913.8,1203.5 917.8,1203.5 921.8,1203.5 925.8,1203.5 929.8,1203.5 933.8,1203.5 937.8,1203.5 941.8,1203.5 945.8,1203.5 949.8,1203.5 953.8,1203.5 957.8,1203.5 961.8,1203.5 965.8,1203.5 969.8,1203.5 973.8,1203.5 977.8,1203.5 981.8,1203.5 985.8,1203.5 989.8,1203.5 993.8,1203.6 997.8,1203.6 1001.8,1203.6 1005.8,1203.6 1009.8,1203.6 1013.8,1203.6 1017.8,1203.6 1021.8,1203.6 1025.8,1203.6 1029.8,1203.6 1033.8,1203.6 1037.8,1203.6 1041.8,1203.6 1045.8,1203.6 1049.8,1203.6 1053.8,1203.6 1057.8,1203.6 1061.8,1203.6 1065.8,1203.6 1069.8,1203.6 1073.8,1203.6 1077.8,1203.6 1081.8,1203.6 1085.8,1203.6 1089.9,1203.6 1093.9,1203.6 1097.9,1203.6 1101.9,1203.6 1105.9,1203.6 1109.9,1203.6 1113.9,1203.6 1117.9,1203.6 1121.9,1203.6 1125.9,1203.6 1129.9,1203.6 1133.9,1203.6 1137.9,1203.6 1141.9,1203.6 1145.9,1203.6 1149.9,1203.6 1153.9,1203.6 1157.9,1203.6 1161.9,1203.6 1165.9,1203.6 1169.9,1203.6 1173.9,1203.6 1177.9,1203.7 1181.9,1203.7 1185.9,1203.7 1189.9,1203.7 1193.9,1203.7 1197.9,1203.7 1201.9,1203.7 1205.9,1203.7 1209.9,1203.7 1213.9,1203.7 1217.9,1203.7 1221.9,1203.7 1225.9,1203.7 1229.9,1203.7 1233.9,1203.7 1237.9,1203.7 1241.9,1203.7 1245.9,1203.7 1249.9,1203.7 1253.9,1203.7 1257.9,1203.7 1261.9,1203.7 1265.9,1203.7 1269.9,1203.7 1273.9,1203.7 1277.9,1203.7 1281.9,1203.7 1285.9,1203.7 1289.9,1203.7 1293.9,1203.7 1297.9,1203.7 1301.9,1203.7 1305.9,1203.7 1309.9,1203.7 1313.9,1203.7 1317.9,1203.7 1321.9,1203.7 1325.9,1203.7 1329.9,1203.7 1333.9,1203.7 1337.9,1203.7 1341.9,1203.7 1345.9,1203.7 1349.9,1203.7 1353.9,1203.7 1357.9,1203.7 1361.9,1203.7 1365.9,1203.8 1369.9,1203.8 1373.9,1203.8 1377.9,1203.8 1381.9,1203.8 1385.9,1203.8 1389.9,1203.8 1393.9,1203.8 1397.9,1203.8 1401.9,1203.8 1405.9,1203.8 1409.9,1203.8 1413.9,1203.8 1417.9,1203.8 1421.9,1203.8 1425.9,1203.8 1429.9,1203.8 1433.9,1203.8 1437.9,1203.8 1441.9,1203.8 1445.9,1203.8 1449.9,1203.8 1453.9,1203.8 1457.9,1203.8 1461.9,1203.8 1465.9,1203.8 1469.9,1203.8 1473.9,1203.8 1477.9,1203.8 1481.9,1203.8 1485.9,1203.8 1489.9,1203.8 1493.9,1203.8 1497.9,1203.8 1501.9,1203.8 1505.9,1203.8 1509.9,1203.8 1513.9,1203.8 1517.9,1203.8 1521.9,1203.8 1525.9,1203.8 1529.9,1203.8 1533.9,1203.8 1537.9,1203.8 1541.9,1203.8 1545.9,1203.8 1549.9,1203.9 1553.9,1203.9 1557.9,1203.9 1561.9,1203.9 1565.9,1203.9 1569.9,1203.9 1573.9,1203.9 1577.9,1203.9 1582.0,1203.9 1586.0,1203.9 1590.0,1203.9 1594.0,1203.9 1598.0,1203.9 1602.0,1203.9 1606.0,1203.9 1610.0,1203.9 1614.0,1203.9 1618.0,1203.9 1622.0,1203.9 1626.0,1203.9 1630.0,1203.9 1634.0,1203.9 1638.0,1203.9 1642.0,1203.9 1646.0,1203.9 1650.0,1203.9 1654.0,1203.9 1658.0,1203.9 1662.0,1203.9 1666.0,1203.9 1670.0,1203.9 1674.0,1203.9 1678.0,1203.9 1682.0,1203.9 1686.0,1203.9 1690.0,1203.9 1694.0,1203.9 1698.0,1203.9 1702.0,1203.9 1706.0,1203.9 1710.0,1203.9 1714.0,1203.9 1718.0,1203.9 1722.0,1203.9 1726.0,1203.9 1730.0,1203.9 1734.0,1204.0 1738.0,1204.0 1742.0,1204.0 1746.0,1204.0 1750.0,1204.0 1754.0,1204.0 1758.0,1204.0 1762.0,1204.0 1766.0,1204.0 1770.0,1204.0 1774.0,1204.0 1778.0,1204.0 1782.0,1204.0 1786.0,1204.0 1790.0,1204.0 1794.0,1204.0 1798.0,1204.0 1802.0,1204.0 1806.0,1204.0 1810.0,1204.0 1814.0,1204.0 1818.0,1204.0 1821.9,1204.0 1824.8,1204.0"/>
<polyline stroke="#ff0000" points="599.7,1196.4 602.5,1195.6 606.3,1194.5 610.1,1193.4 614.0,1192.3 617.9,1191.4 621.8,1190.6 625.7,1189.8 629.6,1188.8 633.3,1187.4 636.8,1185.7 639.8,1183.3 641.9,1180.1 643.8,1176.6 645.5,1173.0 647.3,1169.4 648.9,1165.7 650.0,1161.9 650.9,1158.0 651.7,1154.1 652.5,1150.2 653.3,1146.3 654.0,1142.3 654.8,1138.4 655.4,1134.5 656.1,1130.5 656.7,1126.6 657.2,1122.6 657.6,1118.6 658.0,1114.6 658.4,1110.7 659.0,1106.7 659.8,1102.8 660.7,1098.9 661.7,1095.0 662.7,1091.1 663.5,1087.2 664.3,1083.3 665.1,1079.4 666.0,1075.5 666.9,1071.6 667.9,1067.7 669.0,1063.9 670.2,1060.1 671.4,1056.3 672.9,1052.6 674.6,1048.9 676.2,1045.3 677.3,1041.5 678.1,1037.6 678.7,1033.6 679.3,1029.6 679.8,1025.7 680.4,1021.7 680.9,1017.8 681.4,1013.8 681.9,1009.8 682.4,1005.8 682.9,1001.9 683.3,997.9 683.8,993.9 684.3,990.0 684.8,986.0 685.3,982.0 685.9,978.1 686.5,974.1 687.1,970.1 687.7,966.2 688.3,962.2 688.9,958.3 689.5,954.3 689.9,950.3 690.2,946.4 690.6,942.4 690.9,938.4 691.2,934.4 691.5,930.4 691.8,926.4 692.2,922.4 692.6,918.4 693.0,914.5 693.4,910.5 693.8,906.5 694.1,902.5 694.5,898.5 694.9,894.5 695.3,890.6 695.7,886.6 696.1,882.6 696.5,878.6 696.8,874.6 697.2,870.6 697.6,866.7 698.0,862.7 698.5,858.7 699.0,854.7 699.6,850.8 700.1,846.8 700.7,842.9 701.3,838.9 701.8,834.9 702.4,831.0 702.9,827.0 703.5,823.0 704.0,819.1 704.5,815.1 704.9,811.1 705.2,807.1 705.5,803.1 705.8,799.2 706.1,795.2 706.4,791.2 706.7,787.2 707.0,783.2 707.3,779.2 707.6,775.2 707.9,771.2 708.2,767.2 708.5,763.2 708.8,759.3 709.1,755.3 709.4,751.3 709.7,747.3 710.0,743.3 710.3,739.3 710.6,735.3 710.9,731.3 711.2,727.3 711.5,723.3 711.8,719.4 712.0,715.4 712.3,711.4 712.6,707.4 712.9,703.4 713.2,699.4 713.5,695.4 713.8,691.4 714.2,687.4 714.5,683.4 714.9,679.5 715.3,675.5 715.7,671.5 716.1,667.5 716.5,663.5 716.9,659.6 717.3,655.6 717.7,651.6 718.1,647.6 718.4,643.6 718.7,639.6 719.0,635.6 719.3,631.6 719.6,627.7 719.9,623.7 720.2,619.7 720.5,615.7 720.8,611.7 721.1,607.7 721.4,603.7 721.7,599.7 721.9,595.7 722.1,591.7 722.4,587.7 722.6,583.7 722.8,579.7 723.1,575.8 723.3,571.8 723.5,567.8 723.7,563.8 724.0,559.8 724.2,555.8 724.5,551.8 724.7,547.8 725.0,543.8 725.3,539.8 725.5,535.8 725.8,531.8 726.1,527.8 726.3,523.8 726.6,519.8 726.9,515.9 727.2,511.9 727.5,507.9 727.8,503.9 728.1,499.9 728.4,495.9 728.7,491.9 729.0,487.9 729.3,483.9 729.6,479.9 729.9,475.9 730.1,472.0 730.4,468.0 730.5,464.0 730.7,460.0 730.9,456.0 731.0,452.0 731.2,448.0 731.3,444.0 731.5,440.0 731.7,436.0 731.9,432.0 732.2,428.0 732.5,424.0 732.8,420.0 733.0,416.0 733.3,412.0 733.6,408.0 733.9,404.0 734.1,400.0 734.4,396.1 734.7,392.1 734.9,388.1 735.2,384.1 735.4,380.1 735.7,376.1 736.0,372.1 736.2,368.1 736.5,364.1 736.7,360.1 737.0,356.1 737.3,352.1 737.6,348.1 737.8,344.1 738.1,340.2 738.4,336.2 738.7,332.2 739.0,328.2 739.2,324.2 739.5,320.2 739.8,316.2 740.1,312.2 740.5,308.2 740.9,304.3 741.3,300.3 741.7,296.3 742.1,292.3 742.4,288.3 742.8,284.3 743.2,280.4 743.6,276.4 744.0,272.4 744.4,268.4 744.8,264.4 745.2,260.4 745.6,256.5 746.0,252.5 746.4,248.5 746.8,244.5 747.2,240.5 747.5,236.6 748.0,232.6 748.4,228.6 748.9,224.6 749.3,220.6 749.8,216.7 750.3,212.7 750.7,208.7 751.2,204.7 751.7,200.8 752.1,196.8 752.6,192.8 753.1,188.9 753.6,184.9 754.1,180.9 754.6,176.9 755.1,173.0 755.6,169.0 756.1,165.0 756.7,161.1 757.4,157.1 758.1,153.2 758.8,149.3 759.6,145.3 760.4,141.4 761.3,137.5 762.4,133.7 763.5,129.8 764.6,126.0 765.8,122.2 767.1,118.4 768.6,114.7 770.2,111.0 772.3,107.9 775.4,105.7 778.9,104.6 782.3,105.2 785.6,107.3 788.4,110.0 790.8,113.2 793.2,116.4 795.3,119.8 797.2,123.3 799.0,126.9 800.7,130.5 802.5,134.1 804.0,137.8 805.4,141.5 806.8,145.3 808.2,149.0 809.5,152.8 810.6,156.6 811.5,160.5 812.4,164.4 813.3,168.3 814.2,172.2 815.1,176.1 815.9,180.0 816.7,184.0 817.4,187.9 818.0,191.9 818.7,195.8 819.4,199.7 820.1,203.7 820.7,207.6 821.4,211.6 822.1,215.5 822.7,219.5 823.3,223.4 823.9,227.4 824.5,231.3 825.0,235.3 825.6,239.3 826.2,243.2 826.8,247.2 827.4,251.1 828.1,255.1 828.8,259.0 829.5,263.0 830.3,266.9 831.0,270.8 831.7,274.7 832.5,278.7 833.2,282.6 834.0,286.5 834.7,290.5 835.5,294.4 836.2,298.3 836.8,302.3 837.4,306.3 837.9,310.2 838.4,314.2 839.0,318.2 839.5,322.1 840.0,326.1 840.5,330.1 841.1,334.0 841.6,338.0 842.2,342.0 842.8,345.9 843.4,349.9 844.0,353.8 844.6,357.8 845.2,361.7 845.8,365.7 846.4,369.6 847.0,373.6 847.7,377.5 848.3,381.5 849.0,385.4 849.6,389.4 850.3,393.3 850.9,397.3 851.6,401.2 852.2,405.2 852.9,409.1 853.6,413.1 854.2,417.0 854.9,421.0 855.5,424.9 856.2,428.9 856.9,432.8 857.5,436.7 858.2,440.7 858.8,444.7 859.4,448.6 860.0,452.6 860.5,456.5 861.1,460.5 861.7,464.4 862.3,468.4 862.9,472.4 863.5,476.3 864.1,480.3 864.7,484.2 865.3,488.2 865.9,492.1 866.5,496.1 867.0,500.1 867.6,504.0 868.1,508.0 868.6,512.0 869.2,515.9 869.7,519.9 870.2,523.9 870.7,527.8 871.3,531.8 871.8,535.8 872.4,539.7 873.0,543.7 873.6,547.6 874.2,551.6 874.8,555.5 875.4,559.5 876.0,563.5 876.6,567.4 877.2,571.4 877.9,575.3 878.7,579.2 879.6,583.1 880.4,587.0 881.3,591.0 882.1,594.9 883.0,598.8 883.8,602.7 884.6,606.6 885.5,610.5 886.4,614.4 887.2,618.3 888.1,622.2 889.0,626.1 889.9,630.0 890.8,633.9 891.7,637.8 892.6,641.7 893.5,645.6 894.3,649.5 894.9,653.5 895.6,657.4 896.2,661.4 896.8,665.4 897.4,669.3 898.0,673.3 898.6,677.2 899.2,681.2 900.0,685.1 900.9,689.0 901.8,692.9 902.8,696.8 903.8,700.6 904.7,704.5 905.7,708.4 906.7,712.3 907.6,716.2 908.3,720.1 909.0,724.1 909.7,728.0 910.4,731.9 911.0,735.9 911.7,739.8 912.3,743.8 913.0,747.7 913.7,751.7 914.3,755.6 915.0,759.6 915.8,763.5 916.6,767.4 917.4,771.3 918.1,775.3 918.9,779.2 919.7,783.1 920.5,787.0 921.3,791.0 922.0,794.9 922.8,798.8 923.6,802.7 924.5,806.6 925.3,810.6 926.1,814.5 926.9,818.4 927.7,822.3 928.6,826.2 929.4,830.1 930.2,834.1 931.1,838.0 931.9,841.9 932.8,845.8 933.6,849.7 934.5,853.6 935.4,857.5 936.2,861.4 937.1,865.3 937.9,869.2 938.8,873.1 939.8,877.0 940.7,880.9 941.6,884.8 942.5,888.7 943.5,892.6 944.4,896.5 945.4,900.4 946.4,904.2 947.5,908.1 948.5,912.0 949.5,915.8 950.6,919.7 951.6,923.6 952.7,927.4 953.7,931.3 954.9,935.1 956.1,938.9 957.4,942.7 958.6,946.5 959.9,950.3 961.2,954.1 962.4,957.9 963.7,961.7 965.0,965.5 966.2,969.3 967.5,973.1 968.8,976.9 970.0,980.7 971.3,984.5 972.6,988.3 973.8,992.1 975.1,995.9 976.4,999.7 977.6,1003.4 979.0,1007.2 980.4,1011.0 981.8,1014.7 983.2,1018.4 984.7,1022.2 986.1,1025.9 987.5,1029.6 989.0,1033.4 990.4,1037.1 992.0,1040.8 993.5,1044.5 995.1,1048.2 996.7,1051.8 998.3,1055.5 999.8,1059.2 1001.4,1062.9 1003.0,1066.5 1004.6,1070.2 1006.3,1073.8 1008.1,1077.4 1010.0,1080.9 1011.9,1084.5 1013.7,1088.0 1015.6,1091.5 1017.5,1095.1 1019.3,1098.6 1021.3,1102.1 1023.5,1105.4 1025.8,1108.7 1028.0,1112.0 1030.3,1115.3 1032.6,1118.6 1034.9,1121.9 1037.3,1125.1 1039.7,1128.2 1042.2,1131.4 1044.7,1134.5 1047.2,1137.6 1049.7,1140.7 1052.3,1143.8 1055.0,1146.7 1058.1,1149.2 1061.3,1151.6 1064.6,1153.9 1067.9,1156.2 1071.1,1158.5 1074.4,1160.7 1077.8,1162.9 1081.3,1164.7 1084.9,1166.5 1088.5,1168.3 1092.1,1170.1 1095.7,1171.8 1099.3,1173.6 1103.0,1175.1 1106.7,1176.6 1110.4,1178.1 1114.1,1179.6 1117.8,1181.1 1121.6,1182.5 1125.4,1183.6 1129.3,1184.6 1133.2,1185.6 1137.0,1186.5 1140.9,1187.5 1144.8,1188.4 1148.8,1189.1 1152.7,1189.7 1156.7,1190.4 1160.6,1191.0 1164.6,1191.7 1168.5,1192.3 1172.5,1193.0 1176.4,1193.6 1180.4,1194.2 1184.3,1194.7 1188.3,1195.2 1192.3,1195.8 1196.2,1196.3 1200.2,1196.8 1204.2,1197.4 1208.1,1197.9 1212.1,1198.3 1216.1,1198.6 1220.1,1198.9 1224.1,1199.2 1228.1,1199.4 1232.1,1199.7 1236.1,1199.9 1240.0,1200.2 1244.0,1200.5 1248.0,1200.7 1252.0,1201.0 1256.0,1201.2 1260.0,1201.5 1264.0,1201.6 1268.0,1201.8 1272.0,1201.9 1276.0,1202.0 1280.0,1202.2 1284.0,1202.3 1288.0,1202.4 1292.0,1202.6 1296.0,1202.7 1300.0,1202.8 1304.0,1203.0 1308.0,1203.1 1312.0,1203.2 1315.9,1203.4 1318.8,1203.5"/>
<polyline stroke="#ff0000" stroke-dasharray="13 9" points="506.3,498.9 506.4,495.9 506.7,492.0 506.9,488.0 507.1,484.0 507.4,480.0 507.6,476.0 507.9,472.0 508.1,468.0 508.3,464.0 508.6,460.1 508.8,456.1 509.0,452.1 509.3,448.1 509.5,444.1 509.8,440.1 510.0,436.1 510.2,432.1 510.5,428.1 510.7,424.1 510.9,420.1 511.0,416.1 511.1,412.1 511.3,408.1 511.4,404.1 511.5,400.1 511.6,396.1 511.7,392.1 511.8,388.1 512.0,384.1 512.1,380.1 512.2,376.1 512.3,372.1 512.4,368.1 512.5,364.1 512.6,360.1 512.8,356.1 513.2,352.1 513.7,348.2 514.2,344.2 514.7,340.2 515.3,336.3 515.8,332.3 516.3,328.3 516.9,324.4 517.4,320.4 517.9,316.4 518.4,312.5 518.8,308.5 519.2,304.5 519.6,300.5 520.0,296.5 520.4,292.5 520.8,288.6 521.2,284.6 521.6,280.6 521.9,276.6 522.4,272.6 522.9,268.7 523.5,264.7 524.1,260.8 524.6,256.8 525.2,252.8 525.8,248.9 526.4,244.9 527.0,241.0 527.6,237.0 528.2,233.0 528.9,229.1 529.6,225.2 530.3,221.2 530.9,217.3 531.6,213.3 532.3,209.4 533.0,205.5 533.7,201.5 534.5,197.6 535.4,193.7 536.5,189.9 537.7,186.0 538.9,182.2 540.1,178.4 541.2,174.6 542.4,170.8 543.6,166.9 544.8,163.1 546.0,159.3 547.2,155.5 548.3,151.6 549.3,147.8 550.2,143.9 551.1,140.0 552.0,136.1 552.9,132.2 553.8,128.2 554.7,124.4 555.7,120.5 557.0,116.7 558.3,112.9 559.7,109.2 561.1,105.7 562.4,104.3 563.8,106.3 565.2,109.9 566.6,113.6 567.9,117.4 569.3,121.1 570.7,124.9 572.0,128.7 572.9,132.5 573.6,136.5 574.1,140.4 574.7,144.4 575.2,148.4 575.8,152.3 576.3,156.3 576.9,160.2 577.5,164.2 578.2,168.1 578.8,172.1 579.5,176.0 580.2,180.0 580.8,183.9 581.3,187.9 581.8,191.9 582.4,195.8 582.9,199.8 583.4,203.8 584.0,207.7 584.5,211.7 585.0,215.7 585.6,219.6 586.1,223.6 586.6,227.6 587.1,231.5 587.5,235.5 587.9,239.5 588.2,243.5 588.6,247.5 589.0,251.5 589.4,255.4 589.8,259.4 590.2,263.4 590.7,267.4 591.1,271.4 591.5,275.3 591.8,279.3 592.1,283.3 592.3,287.3 592.4,291.3 592.5,295.3 592.6,299.3 592.8,303.3 592.9,307.3 593.0,311.3 593.1,315.3 593.3,319.3 593.6,323.3 593.9,327.3 594.2,331.3 594.6,335.3 594.9,339.2 595.3,343.2 595.6,347.2 596.0,351.2 596.3,355.2 596.7,359.2 597.0,363.2 597.4,367.2 597.7,371.1 598.0,375.1 598.3,379.1 598.7,383.1 599.0,387.1 599.3,391.1 599.7,395.1 600.0,399.1 600.3,403.0 600.7,407.0 601.0,411.0 601.4,415.0 601.8,419.0 602.2,423.0 602.6,427.0 603.0,430.9 603.4,434.9 603.8,438.9 604.2,442.9 604.5,446.9 604.9,450.8 605.2,454.8 605.5,458.8 605.8,462.8 606.0,466.8 606.3,470.8 606.6,474.8 606.9,478.8 607.1,482.8 607.4,486.8 607.7,490.8 608.0,494.8 608.3,498.7 608.6,502.7 609.0,506.7 609.3,510.7 609.6,514.7 609.9,518.7 610.3,522.7 610.6,526.7 610.9,530.7 611.3,534.6 611.6,538.6 612.0,542.6 612.4,546.6 612.8,550.6 613.2,554.6 613.6,558.5 614.1,562.5 614.5,566.5 614.9,570.5 615.3,574.5 615.7,578.4 616.1,582.4 616.5,586.4 616.8,590.4 617.2,594.4 617.5,598.4 617.9,602.3 618.2,606.3 618.5,610.3 618.9,614.3 619.2,618.3 619.6,622.3 619.9,626.3 620.3,630.3 620.6,634.2 621.0,638.2 621.3,642.2 621.6,646.2 621.9,650.2 622.2,654.2 622.6,658.2 622.9,662.2 623.2,666.2 623.5,670.1 623.8,674.1 624.2,678.1 624.5,682.1 624.8,686.1 625.1,690.1 625.4,694.1 625.8,698.1 626.1,702.0 626.5,706.0 626.9,710.0 627.3,714.0 627.7,718.0 628.1,722.0 628.5,725.9 628.9,729.9 629.3,733.9 629.7,737.9 630.1,741.9 630.5,745.8 630.9,749.8 631.3,753.8 631.7,757.8 632.1,761.8 632.5,765.8 632.9,769.7 633.3,773.7 633.7,777.7 634.1,781.7 634.5,785.7 634.9,789.6 635.3,793.6 635.7,797.6 636.1,801.6 636.5,805.6 636.9,809.6 637.3,813.5 637.7,817.5 638.1,821.5 638.5,825.5 638.9,829.5 639.3,833.4 639.7,837.4 640.2,841.4 640.6,845.4 641.0,849.4 641.5,853.3 641.9,857.3 642.3,861.3 642.7,865.3 643.1,869.3 643.5,873.2 643.9,877.2 644.2,881.2 644.6,885.2 645.0,889.2 645.4,893.2 645.8,897.1 646.1,901.1 646.5,905.1 646.9,909.1 647.3,913.1 647.7,917.1 648.1,921.0 648.4,925.0 648.8,929.0 649.3,933.0 649.8,937.0 650.3,940.9 650.9,944.9 651.5,948.8 652.0,952.8 652.6,956.8 653.2,960.7 653.7,964.7 654.3,968.6 654.9,972.6 655.4,976.6 656.0,980.5 656.7,984.5 657.5,988.4 658.4,992.3 659.2,996.2 659.9,1000.1 660.5,1004.1 661.1,1008.1 661.6,1012.0 662.1,1016.0 662.6,1020.0 663.2,1023.9 663.7,1027.9 664.4,1031.8 665.2,1035.8 666.0,1039.7 666.7,1043.6 667.5,1047.5 668.3,1051.5 669.2,1055.4 670.2,1059.2 671.1,1063.1 672.1,1067.0 673.0,1070.9 673.7,1074.8 674.2,1078.8 674.7,1082.8 675.2,1086.7 675.6,1090.7 676.2,1094.7 676.9,1098.6 677.8,1102.5 678.7,1106.4 679.7,1110.3 680.8,1114.1 682.0,1118.0 683.2,1121.8 684.3,1125.6 685.3,1129.5 686.2,1133.4 687.1,1137.3 688.1,1141.1 689.5,1144.9 691.0,1148.6 692.6,1152.3 694.1,1155.9 695.7,1159.6 697.3,1163.3 699.1,1166.9 701.1,1170.3 703.2,1173.8 705.4,1177.0 708.0,1180.0 710.9,1182.9 713.7,1185.7 716.7,1188.3 720.0,1190.4 723.5,1192.3 727.1,1194.1 730.7,1195.8 734.4,1197.4 738.2,1198.3 742.2,1198.9 746.1,1199.3 750.1,1199.8 754.1,1200.3 758.0,1200.7 762.0,1201.1 766.0,1201.3 770.0,1201.5 774.0,1201.7 778.0,1201.9 782.0,1202.1 786.0,1202.3 790.0,1202.5 794.0,1202.7 797.6,1202.9 798.9,1202.9"/>
<polyline stroke="#ff0000" points="378.0,1202.7 382.0,1202.7 386.0,1202.7 390.0,1202.7 394.0,1202.7 398.0,1202.7 402.0,1202.7 406.0,1202.7 410.0,1202.7 414.0,1202.7 418.0,1202.7 422.0,1202.7 426.0,1202.7 430.0,1202.7 434.0,1202.7 438.0,1202.7 442.0,1202.7 446.0,1202.7 450.0,1202.7 454.0,1202.7 458.0,1202.7 462.0,1202.7 466.0,1202.7 470.0,1202.7 474.0,1202.7 476.0,1202.7"/>
<path stroke="#ff0000" stroke-width="6" d="M700 1204.3 H1826"/>
</g>
</svg>
</body></html>
